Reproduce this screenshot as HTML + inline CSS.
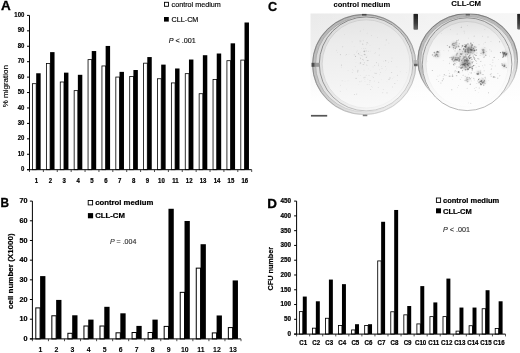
<!DOCTYPE html>
<html><head><meta charset="utf-8"><title>Figure</title>
<style>html,body{margin:0;padding:0;background:#fff}body{width:520px;height:353px;overflow:hidden}svg{display:block}</style>
</head><body>
<svg width="520" height="353" viewBox="0 0 520 353" font-family="Liberation Sans, Arial, sans-serif">
<defs>
<filter id="bl" x="-5%" y="-5%" width="110%" height="110%"><feGaussianBlur stdDeviation="0.45"/></filter>
<filter id="bl3" x="-20%" y="-20%" width="140%" height="140%"><feGaussianBlur stdDeviation="1.1"/></filter>
<filter id="bl2" x="-5%" y="-5%" width="110%" height="110%"><feGaussianBlur stdDeviation="0.3"/></filter>
<linearGradient id="bg" gradientUnits="userSpaceOnUse" x1="0" y1="14" x2="0" y2="118"><stop offset="0" stop-color="#eaeaea"/><stop offset="0.3" stop-color="#efefef"/><stop offset="0.6" stop-color="#f8f8f8"/><stop offset="0.85" stop-color="#ffffff"/></linearGradient>
<linearGradient id="bgh" gradientUnits="userSpaceOnUse" x1="311" y1="0" x2="520" y2="0"><stop offset="0" stop-color="#fff" stop-opacity="0"/><stop offset="0.4" stop-color="#fff" stop-opacity="0.3"/><stop offset="1" stop-color="#fff" stop-opacity="0.6"/></linearGradient>
<linearGradient id="fade" gradientUnits="userSpaceOnUse" x1="360" y1="35" x2="372" y2="118"><stop offset="0" stop-color="#fff" stop-opacity="0"/><stop offset="0.4" stop-color="#fff" stop-opacity="0.15"/><stop offset="0.75" stop-color="#fff" stop-opacity="0.45"/><stop offset="1" stop-color="#fff" stop-opacity="0.7"/></linearGradient>
<linearGradient id="dish2" x1="0" y1="0" x2="0" y2="1"><stop offset="0" stop-color="#e2e2e2"/><stop offset="0.3" stop-color="#f4f4f4"/><stop offset="0.6" stop-color="#fbfbfb"/><stop offset="1" stop-color="#fdfdfd"/></linearGradient>
<linearGradient id="db" x1="0" y1="0" x2="0" y2="1"><stop offset="0" stop-color="#1e1e1e"/><stop offset="0.6" stop-color="#3c3c3c"/><stop offset="1" stop-color="#6a6a6a"/></linearGradient>
<radialGradient id="dish" cx="0.5" cy="0.5" r="0.5"><stop offset="0" stop-color="#f4f4f4"/><stop offset="0.9" stop-color="#f1f1f1"/><stop offset="1" stop-color="#e6e6e6"/></radialGradient>
<clipPath id="pc"><rect x="310.5" y="13.5" width="209.5" height="106"/></clipPath>
</defs>
<rect width="520" height="353" fill="#fff"/>
<g id="panelA">
<rect x="32.50" y="83.69" width="3.70" height="86.01" fill="#fff" stroke="#000" stroke-width="0.8"/>
<rect x="36.20" y="73.26" width="4.45" height="96.44" fill="#000"/>
<rect x="46.39" y="63.48" width="3.70" height="106.22" fill="#fff" stroke="#000" stroke-width="0.8"/>
<rect x="50.09" y="52.12" width="4.45" height="117.58" fill="#000"/>
<rect x="60.27" y="81.99" width="3.70" height="87.71" fill="#fff" stroke="#000" stroke-width="0.8"/>
<rect x="63.98" y="72.65" width="4.45" height="97.05" fill="#000"/>
<rect x="74.16" y="90.64" width="3.70" height="79.06" fill="#fff" stroke="#000" stroke-width="0.8"/>
<rect x="77.86" y="74.81" width="4.45" height="94.89" fill="#000"/>
<rect x="88.05" y="59.62" width="3.70" height="110.08" fill="#fff" stroke="#000" stroke-width="0.8"/>
<rect x="91.75" y="51.04" width="4.45" height="118.66" fill="#000"/>
<rect x="101.94" y="65.95" width="3.70" height="103.75" fill="#fff" stroke="#000" stroke-width="0.8"/>
<rect x="105.64" y="45.95" width="4.45" height="123.75" fill="#000"/>
<rect x="115.82" y="77.06" width="3.70" height="92.64" fill="#fff" stroke="#000" stroke-width="0.8"/>
<rect x="119.52" y="71.87" width="4.45" height="97.83" fill="#000"/>
<rect x="129.71" y="76.59" width="3.70" height="93.11" fill="#fff" stroke="#000" stroke-width="0.8"/>
<rect x="133.41" y="70.02" width="4.45" height="99.68" fill="#000"/>
<rect x="143.60" y="63.17" width="3.70" height="106.53" fill="#fff" stroke="#000" stroke-width="0.8"/>
<rect x="147.30" y="57.06" width="4.45" height="112.64" fill="#000"/>
<rect x="157.49" y="78.75" width="3.70" height="90.95" fill="#fff" stroke="#000" stroke-width="0.8"/>
<rect x="161.19" y="64.62" width="4.45" height="105.08" fill="#000"/>
<rect x="171.38" y="82.92" width="3.70" height="86.78" fill="#fff" stroke="#000" stroke-width="0.8"/>
<rect x="175.07" y="68.48" width="4.45" height="101.22" fill="#000"/>
<rect x="185.26" y="73.66" width="3.70" height="96.04" fill="#fff" stroke="#000" stroke-width="0.8"/>
<rect x="188.96" y="59.53" width="4.45" height="110.17" fill="#000"/>
<rect x="199.15" y="93.72" width="3.70" height="75.98" fill="#fff" stroke="#000" stroke-width="0.8"/>
<rect x="202.85" y="55.21" width="4.45" height="114.49" fill="#000"/>
<rect x="213.04" y="79.53" width="3.70" height="90.17" fill="#fff" stroke="#000" stroke-width="0.8"/>
<rect x="216.74" y="53.51" width="4.45" height="116.19" fill="#000"/>
<rect x="226.92" y="60.70" width="3.70" height="109.00" fill="#fff" stroke="#000" stroke-width="0.8"/>
<rect x="230.62" y="43.33" width="4.45" height="126.37" fill="#000"/>
<rect x="240.81" y="60.08" width="3.70" height="109.62" fill="#fff" stroke="#000" stroke-width="0.8"/>
<rect x="244.51" y="22.50" width="4.45" height="147.20" fill="#000"/>
<line x1="29.5" y1="15.4" x2="29.5" y2="170.29999999999998" stroke="#000" stroke-width="1.0"/>
<line x1="27.0" y1="169.7" x2="251.7" y2="169.7" stroke="#000" stroke-width="1.0"/>
<line x1="27.0" y1="169.70" x2="29.5" y2="169.70" stroke="#000" stroke-width="1"/>
<text x="0" y="0" font-size="6.8" font-weight="bold" text-anchor="end" fill="#000" stroke="#000" stroke-width="0.22" transform="translate(24.3,171.30) scale(0.88,1)">0</text>
<line x1="27.0" y1="154.27" x2="29.5" y2="154.27" stroke="#000" stroke-width="1"/>
<text x="0" y="0" font-size="6.8" font-weight="bold" text-anchor="end" fill="#000" stroke="#000" stroke-width="0.22" transform="translate(24.3,155.87) scale(0.88,1)">10</text>
<line x1="27.0" y1="138.84" x2="29.5" y2="138.84" stroke="#000" stroke-width="1"/>
<text x="0" y="0" font-size="6.8" font-weight="bold" text-anchor="end" fill="#000" stroke="#000" stroke-width="0.22" transform="translate(24.3,140.44) scale(0.88,1)">20</text>
<line x1="27.0" y1="123.41" x2="29.5" y2="123.41" stroke="#000" stroke-width="1"/>
<text x="0" y="0" font-size="6.8" font-weight="bold" text-anchor="end" fill="#000" stroke="#000" stroke-width="0.22" transform="translate(24.3,125.01) scale(0.88,1)">30</text>
<line x1="27.0" y1="107.98" x2="29.5" y2="107.98" stroke="#000" stroke-width="1"/>
<text x="0" y="0" font-size="6.8" font-weight="bold" text-anchor="end" fill="#000" stroke="#000" stroke-width="0.22" transform="translate(24.3,109.58) scale(0.88,1)">40</text>
<line x1="27.0" y1="92.55" x2="29.5" y2="92.55" stroke="#000" stroke-width="1"/>
<text x="0" y="0" font-size="6.8" font-weight="bold" text-anchor="end" fill="#000" stroke="#000" stroke-width="0.22" transform="translate(24.3,94.15) scale(0.88,1)">50</text>
<line x1="27.0" y1="77.12" x2="29.5" y2="77.12" stroke="#000" stroke-width="1"/>
<text x="0" y="0" font-size="6.8" font-weight="bold" text-anchor="end" fill="#000" stroke="#000" stroke-width="0.22" transform="translate(24.3,78.72) scale(0.88,1)">60</text>
<line x1="27.0" y1="61.69" x2="29.5" y2="61.69" stroke="#000" stroke-width="1"/>
<text x="0" y="0" font-size="6.8" font-weight="bold" text-anchor="end" fill="#000" stroke="#000" stroke-width="0.22" transform="translate(24.3,63.29) scale(0.88,1)">70</text>
<line x1="27.0" y1="46.26" x2="29.5" y2="46.26" stroke="#000" stroke-width="1"/>
<text x="0" y="0" font-size="6.8" font-weight="bold" text-anchor="end" fill="#000" stroke="#000" stroke-width="0.22" transform="translate(24.3,47.86) scale(0.88,1)">80</text>
<line x1="27.0" y1="30.83" x2="29.5" y2="30.83" stroke="#000" stroke-width="1"/>
<text x="0" y="0" font-size="6.8" font-weight="bold" text-anchor="end" fill="#000" stroke="#000" stroke-width="0.22" transform="translate(24.3,32.43) scale(0.88,1)">90</text>
<line x1="27.0" y1="15.40" x2="29.5" y2="15.40" stroke="#000" stroke-width="1"/>
<text x="0" y="0" font-size="6.8" font-weight="bold" text-anchor="end" fill="#000" stroke="#000" stroke-width="0.22" transform="translate(24.3,17.00) scale(0.88,1)">100</text>
<line x1="29.50" y1="169.7" x2="29.50" y2="172.0" stroke="#222" stroke-width="0.8"/>
<line x1="43.39" y1="169.7" x2="43.39" y2="172.0" stroke="#222" stroke-width="0.8"/>
<line x1="57.27" y1="169.7" x2="57.27" y2="172.0" stroke="#222" stroke-width="0.8"/>
<line x1="71.16" y1="169.7" x2="71.16" y2="172.0" stroke="#222" stroke-width="0.8"/>
<line x1="85.05" y1="169.7" x2="85.05" y2="172.0" stroke="#222" stroke-width="0.8"/>
<line x1="98.94" y1="169.7" x2="98.94" y2="172.0" stroke="#222" stroke-width="0.8"/>
<line x1="112.82" y1="169.7" x2="112.82" y2="172.0" stroke="#222" stroke-width="0.8"/>
<line x1="126.71" y1="169.7" x2="126.71" y2="172.0" stroke="#222" stroke-width="0.8"/>
<line x1="140.60" y1="169.7" x2="140.60" y2="172.0" stroke="#222" stroke-width="0.8"/>
<line x1="154.49" y1="169.7" x2="154.49" y2="172.0" stroke="#222" stroke-width="0.8"/>
<line x1="168.38" y1="169.7" x2="168.38" y2="172.0" stroke="#222" stroke-width="0.8"/>
<line x1="182.26" y1="169.7" x2="182.26" y2="172.0" stroke="#222" stroke-width="0.8"/>
<line x1="196.15" y1="169.7" x2="196.15" y2="172.0" stroke="#222" stroke-width="0.8"/>
<line x1="210.04" y1="169.7" x2="210.04" y2="172.0" stroke="#222" stroke-width="0.8"/>
<line x1="223.92" y1="169.7" x2="223.92" y2="172.0" stroke="#222" stroke-width="0.8"/>
<line x1="237.81" y1="169.7" x2="237.81" y2="172.0" stroke="#222" stroke-width="0.8"/>
<line x1="251.70" y1="169.7" x2="251.70" y2="172.0" stroke="#222" stroke-width="0.8"/>
<text x="0" y="0" font-size="6.7" font-weight="bold" text-anchor="middle" fill="#000" stroke="#000" stroke-width="0.22" transform="translate(36.44,182.8) scale(0.9,1)">1</text>
<text x="0" y="0" font-size="6.7" font-weight="bold" text-anchor="middle" fill="#000" stroke="#000" stroke-width="0.22" transform="translate(50.33,182.8) scale(0.9,1)">2</text>
<text x="0" y="0" font-size="6.7" font-weight="bold" text-anchor="middle" fill="#000" stroke="#000" stroke-width="0.22" transform="translate(64.22,182.8) scale(0.9,1)">3</text>
<text x="0" y="0" font-size="6.7" font-weight="bold" text-anchor="middle" fill="#000" stroke="#000" stroke-width="0.22" transform="translate(78.11,182.8) scale(0.9,1)">4</text>
<text x="0" y="0" font-size="6.7" font-weight="bold" text-anchor="middle" fill="#000" stroke="#000" stroke-width="0.22" transform="translate(91.99,182.8) scale(0.9,1)">5</text>
<text x="0" y="0" font-size="6.7" font-weight="bold" text-anchor="middle" fill="#000" stroke="#000" stroke-width="0.22" transform="translate(105.88,182.8) scale(0.9,1)">6</text>
<text x="0" y="0" font-size="6.7" font-weight="bold" text-anchor="middle" fill="#000" stroke="#000" stroke-width="0.22" transform="translate(119.77,182.8) scale(0.9,1)">7</text>
<text x="0" y="0" font-size="6.7" font-weight="bold" text-anchor="middle" fill="#000" stroke="#000" stroke-width="0.22" transform="translate(133.66,182.8) scale(0.9,1)">8</text>
<text x="0" y="0" font-size="6.7" font-weight="bold" text-anchor="middle" fill="#000" stroke="#000" stroke-width="0.22" transform="translate(147.54,182.8) scale(0.9,1)">9</text>
<text x="0" y="0" font-size="6.7" font-weight="bold" text-anchor="middle" fill="#000" stroke="#000" stroke-width="0.22" transform="translate(161.43,182.8) scale(0.9,1)">10</text>
<text x="0" y="0" font-size="6.7" font-weight="bold" text-anchor="middle" fill="#000" stroke="#000" stroke-width="0.22" transform="translate(175.32,182.8) scale(0.9,1)">11</text>
<text x="0" y="0" font-size="6.7" font-weight="bold" text-anchor="middle" fill="#000" stroke="#000" stroke-width="0.22" transform="translate(189.21,182.8) scale(0.9,1)">12</text>
<text x="0" y="0" font-size="6.7" font-weight="bold" text-anchor="middle" fill="#000" stroke="#000" stroke-width="0.22" transform="translate(203.09,182.8) scale(0.9,1)">13</text>
<text x="0" y="0" font-size="6.7" font-weight="bold" text-anchor="middle" fill="#000" stroke="#000" stroke-width="0.22" transform="translate(216.98,182.8) scale(0.9,1)">14</text>
<text x="0" y="0" font-size="6.7" font-weight="bold" text-anchor="middle" fill="#000" stroke="#000" stroke-width="0.22" transform="translate(230.87,182.8) scale(0.9,1)">15</text>
<text x="0" y="0" font-size="6.7" font-weight="bold" text-anchor="middle" fill="#000" stroke="#000" stroke-width="0.22" transform="translate(244.76,182.8) scale(0.9,1)">16</text>
<text transform="translate(7.6,86.2) rotate(-90)" font-size="8.0" font-weight="normal" text-anchor="middle" stroke="#000" stroke-width="0.15">% migration</text>
<text x="0" y="0" font-size="12.5" font-weight="bold" text-anchor="start" fill="#000" stroke="#000" stroke-width="0.3" transform="translate(0.9,10.3) scale(1.08,1)">A</text>
<rect x="164.5" y="2.3" width="4" height="4" fill="#fff" stroke="#000" stroke-width="0.9"/>
<text x="171.6" y="7" font-size="7.2" font-weight="normal" text-anchor="start" fill="#000" stroke="#000" stroke-width="0.15" >control medium</text>
<rect x="164" y="17" width="4.8" height="4.6" fill="#000"/>
<text x="171.6" y="22" font-size="7.2" font-weight="normal" text-anchor="start" fill="#000" stroke="#000" stroke-width="0.15" >CLL-CM</text>
<text x="168.8" y="42.6" font-size="7.2" font-weight="normal" text-anchor="start" fill="#111" stroke="#111" stroke-width="0.15" ><tspan font-style="italic">P</tspan> &lt; .001</text>
</g>
<g id="panelB">
<rect x="35.80" y="307.90" width="4.30" height="31.00" fill="#fff" stroke="#000" stroke-width="1.0"/>
<rect x="40.10" y="276.10" width="5.30" height="62.80" fill="#000"/>
<rect x="51.85" y="315.78" width="4.30" height="23.12" fill="#fff" stroke="#000" stroke-width="1.0"/>
<rect x="56.15" y="299.92" width="5.30" height="38.98" fill="#000"/>
<rect x="67.89" y="333.30" width="4.30" height="5.60" fill="#fff" stroke="#000" stroke-width="1.0"/>
<rect x="72.19" y="315.28" width="5.30" height="23.62" fill="#000"/>
<rect x="83.94" y="326.01" width="4.30" height="12.89" fill="#fff" stroke="#000" stroke-width="1.0"/>
<rect x="88.24" y="319.61" width="5.30" height="19.29" fill="#000"/>
<rect x="99.98" y="326.01" width="4.30" height="12.89" fill="#fff" stroke="#000" stroke-width="1.0"/>
<rect x="104.28" y="306.81" width="5.30" height="32.09" fill="#000"/>
<rect x="116.03" y="332.81" width="4.30" height="6.09" fill="#fff" stroke="#000" stroke-width="1.0"/>
<rect x="120.33" y="313.31" width="5.30" height="25.59" fill="#000"/>
<rect x="132.08" y="332.51" width="4.30" height="6.39" fill="#fff" stroke="#000" stroke-width="1.0"/>
<rect x="136.38" y="325.91" width="5.30" height="12.99" fill="#000"/>
<rect x="148.12" y="332.51" width="4.30" height="6.39" fill="#fff" stroke="#000" stroke-width="1.0"/>
<rect x="152.42" y="319.61" width="5.30" height="19.29" fill="#000"/>
<rect x="164.17" y="326.41" width="4.30" height="12.49" fill="#fff" stroke="#000" stroke-width="1.0"/>
<rect x="168.47" y="208.78" width="5.30" height="130.12" fill="#000"/>
<rect x="180.22" y="292.35" width="4.30" height="46.55" fill="#fff" stroke="#000" stroke-width="1.0"/>
<rect x="184.52" y="220.98" width="5.30" height="117.92" fill="#000"/>
<rect x="196.26" y="268.14" width="4.30" height="70.76" fill="#fff" stroke="#000" stroke-width="1.0"/>
<rect x="200.56" y="244.21" width="5.30" height="94.69" fill="#000"/>
<rect x="212.31" y="332.90" width="4.30" height="6.00" fill="#fff" stroke="#000" stroke-width="1.0"/>
<rect x="216.61" y="315.47" width="5.30" height="23.43" fill="#000"/>
<rect x="228.35" y="327.59" width="4.30" height="11.31" fill="#fff" stroke="#000" stroke-width="1.0"/>
<rect x="232.65" y="280.43" width="5.30" height="58.47" fill="#000"/>
<line x1="32.4" y1="201.1" x2="32.4" y2="339.5" stroke="#000" stroke-width="1.0"/>
<line x1="29.9" y1="338.9" x2="241" y2="338.9" stroke="#000" stroke-width="1.0"/>
<line x1="29.9" y1="338.90" x2="32.4" y2="338.90" stroke="#000" stroke-width="1"/>
<text x="0" y="0" font-size="7.2" font-weight="bold" text-anchor="end" fill="#000" stroke="#000" stroke-width="0.22" transform="translate(27.5,341.04) scale(1.0,1)">0</text>
<line x1="29.9" y1="319.21" x2="32.4" y2="319.21" stroke="#000" stroke-width="1"/>
<text x="0" y="0" font-size="7.2" font-weight="bold" text-anchor="end" fill="#000" stroke="#000" stroke-width="0.22" transform="translate(27.5,321.36) scale(1.0,1)">10</text>
<line x1="29.9" y1="299.53" x2="32.4" y2="299.53" stroke="#000" stroke-width="1"/>
<text x="0" y="0" font-size="7.2" font-weight="bold" text-anchor="end" fill="#000" stroke="#000" stroke-width="0.22" transform="translate(27.5,301.67) scale(1.0,1)">20</text>
<line x1="29.9" y1="279.84" x2="32.4" y2="279.84" stroke="#000" stroke-width="1"/>
<text x="0" y="0" font-size="7.2" font-weight="bold" text-anchor="end" fill="#000" stroke="#000" stroke-width="0.22" transform="translate(27.5,281.98) scale(1.0,1)">30</text>
<line x1="29.9" y1="260.16" x2="32.4" y2="260.16" stroke="#000" stroke-width="1"/>
<text x="0" y="0" font-size="7.2" font-weight="bold" text-anchor="end" fill="#000" stroke="#000" stroke-width="0.22" transform="translate(27.5,262.30) scale(1.0,1)">40</text>
<line x1="29.9" y1="240.47" x2="32.4" y2="240.47" stroke="#000" stroke-width="1"/>
<text x="0" y="0" font-size="7.2" font-weight="bold" text-anchor="end" fill="#000" stroke="#000" stroke-width="0.22" transform="translate(27.5,242.61) scale(1.0,1)">50</text>
<line x1="29.9" y1="220.79" x2="32.4" y2="220.79" stroke="#000" stroke-width="1"/>
<text x="0" y="0" font-size="7.2" font-weight="bold" text-anchor="end" fill="#000" stroke="#000" stroke-width="0.22" transform="translate(27.5,222.93) scale(1.0,1)">60</text>
<line x1="29.9" y1="201.10" x2="32.4" y2="201.10" stroke="#000" stroke-width="1"/>
<text x="0" y="0" font-size="7.2" font-weight="bold" text-anchor="end" fill="#000" stroke="#000" stroke-width="0.22" transform="translate(27.5,203.24) scale(1.0,1)">70</text>
<line x1="32.40" y1="338.9" x2="32.40" y2="341.2" stroke="#222" stroke-width="0.8"/>
<line x1="48.45" y1="338.9" x2="48.45" y2="341.2" stroke="#222" stroke-width="0.8"/>
<line x1="64.49" y1="338.9" x2="64.49" y2="341.2" stroke="#222" stroke-width="0.8"/>
<line x1="80.54" y1="338.9" x2="80.54" y2="341.2" stroke="#222" stroke-width="0.8"/>
<line x1="96.58" y1="338.9" x2="96.58" y2="341.2" stroke="#222" stroke-width="0.8"/>
<line x1="112.63" y1="338.9" x2="112.63" y2="341.2" stroke="#222" stroke-width="0.8"/>
<line x1="128.68" y1="338.9" x2="128.68" y2="341.2" stroke="#222" stroke-width="0.8"/>
<line x1="144.72" y1="338.9" x2="144.72" y2="341.2" stroke="#222" stroke-width="0.8"/>
<line x1="160.77" y1="338.9" x2="160.77" y2="341.2" stroke="#222" stroke-width="0.8"/>
<line x1="176.82" y1="338.9" x2="176.82" y2="341.2" stroke="#222" stroke-width="0.8"/>
<line x1="192.86" y1="338.9" x2="192.86" y2="341.2" stroke="#222" stroke-width="0.8"/>
<line x1="208.91" y1="338.9" x2="208.91" y2="341.2" stroke="#222" stroke-width="0.8"/>
<line x1="224.95" y1="338.9" x2="224.95" y2="341.2" stroke="#222" stroke-width="0.8"/>
<line x1="241.00" y1="338.9" x2="241.00" y2="341.2" stroke="#222" stroke-width="0.8"/>
<text x="0" y="0" font-size="6.9" font-weight="bold" text-anchor="middle" fill="#000" stroke="#000" stroke-width="0.08" transform="translate(40.42,351.6) scale(1.0,1)">1</text>
<text x="0" y="0" font-size="6.9" font-weight="bold" text-anchor="middle" fill="#000" stroke="#000" stroke-width="0.08" transform="translate(56.47,351.6) scale(1.0,1)">2</text>
<text x="0" y="0" font-size="6.9" font-weight="bold" text-anchor="middle" fill="#000" stroke="#000" stroke-width="0.08" transform="translate(72.52,351.6) scale(1.0,1)">3</text>
<text x="0" y="0" font-size="6.9" font-weight="bold" text-anchor="middle" fill="#000" stroke="#000" stroke-width="0.08" transform="translate(88.56,351.6) scale(1.0,1)">4</text>
<text x="0" y="0" font-size="6.9" font-weight="bold" text-anchor="middle" fill="#000" stroke="#000" stroke-width="0.08" transform="translate(104.61,351.6) scale(1.0,1)">5</text>
<text x="0" y="0" font-size="6.9" font-weight="bold" text-anchor="middle" fill="#000" stroke="#000" stroke-width="0.08" transform="translate(120.65,351.6) scale(1.0,1)">6</text>
<text x="0" y="0" font-size="6.9" font-weight="bold" text-anchor="middle" fill="#000" stroke="#000" stroke-width="0.08" transform="translate(136.70,351.6) scale(1.0,1)">7</text>
<text x="0" y="0" font-size="6.9" font-weight="bold" text-anchor="middle" fill="#000" stroke="#000" stroke-width="0.08" transform="translate(152.75,351.6) scale(1.0,1)">8</text>
<text x="0" y="0" font-size="6.9" font-weight="bold" text-anchor="middle" fill="#000" stroke="#000" stroke-width="0.08" transform="translate(168.79,351.6) scale(1.0,1)">9</text>
<text x="0" y="0" font-size="6.9" font-weight="bold" text-anchor="middle" fill="#000" stroke="#000" stroke-width="0.08" transform="translate(184.84,351.6) scale(1.0,1)">10</text>
<text x="0" y="0" font-size="6.9" font-weight="bold" text-anchor="middle" fill="#000" stroke="#000" stroke-width="0.08" transform="translate(200.88,351.6) scale(1.0,1)">11</text>
<text x="0" y="0" font-size="6.9" font-weight="bold" text-anchor="middle" fill="#000" stroke="#000" stroke-width="0.08" transform="translate(216.93,351.6) scale(1.0,1)">12</text>
<text x="0" y="0" font-size="6.9" font-weight="bold" text-anchor="middle" fill="#000" stroke="#000" stroke-width="0.08" transform="translate(232.98,351.6) scale(1.0,1)">13</text>
<text transform="translate(12.5,271.2) rotate(-90)" font-size="8.0" font-weight="bold" text-anchor="middle" stroke="#000" stroke-width="0.2">cell number (X1000)</text>
<text x="0" y="0" font-size="12.2" font-weight="bold" text-anchor="start" fill="#000" stroke="#000" stroke-width="0.3" transform="translate(0.4,207.2) scale(0.97,1)">B</text>
<rect x="88.2" y="200.5" width="4.4" height="4.4" fill="#fff" stroke="#000" stroke-width="0.9"/>
<text x="95.2" y="205.3" font-size="7.75" font-weight="bold" text-anchor="start" fill="#000" stroke="#000" stroke-width="0.22" >control medium</text>
<rect x="87.9" y="213.1" width="5.2" height="5.2" fill="#000"/>
<text x="95.2" y="218.1" font-size="7.75" font-weight="bold" text-anchor="start" fill="#000" stroke="#000" stroke-width="0.22" >CLL-CM</text>
<text x="110" y="244.3" font-size="7.0" font-weight="normal" text-anchor="start" fill="#333" stroke="#333" stroke-width="0.15" ><tspan font-style="italic">P</tspan> = .004</text>
</g>
<g id="panelD">
<rect x="299.38" y="311.62" width="3.43" height="22.48" fill="#fff" stroke="#000" stroke-width="0.85"/>
<rect x="302.80" y="296.56" width="3.95" height="37.54" fill="#000"/>
<rect x="312.43" y="328.17" width="3.43" height="5.93" fill="#fff" stroke="#000" stroke-width="0.85"/>
<rect x="315.86" y="301.29" width="3.95" height="32.81" fill="#000"/>
<rect x="325.49" y="318.27" width="3.43" height="15.83" fill="#fff" stroke="#000" stroke-width="0.85"/>
<rect x="328.91" y="279.57" width="3.95" height="54.53" fill="#000"/>
<rect x="338.54" y="325.51" width="3.43" height="8.59" fill="#fff" stroke="#000" stroke-width="0.85"/>
<rect x="341.97" y="284.15" width="3.95" height="49.95" fill="#000"/>
<rect x="351.60" y="329.94" width="3.43" height="4.16" fill="#fff" stroke="#000" stroke-width="0.85"/>
<rect x="355.03" y="324.20" width="3.95" height="9.90" fill="#000"/>
<rect x="364.66" y="325.51" width="3.43" height="8.59" fill="#fff" stroke="#000" stroke-width="0.85"/>
<rect x="368.08" y="324.20" width="3.95" height="9.90" fill="#000"/>
<rect x="377.71" y="260.93" width="3.43" height="73.17" fill="#fff" stroke="#000" stroke-width="0.85"/>
<rect x="381.14" y="221.79" width="3.95" height="112.31" fill="#000"/>
<rect x="390.77" y="311.77" width="3.43" height="22.33" fill="#fff" stroke="#000" stroke-width="0.85"/>
<rect x="394.19" y="209.97" width="3.95" height="124.13" fill="#000"/>
<rect x="403.83" y="314.84" width="3.43" height="19.26" fill="#fff" stroke="#000" stroke-width="0.85"/>
<rect x="407.25" y="306.02" width="3.95" height="28.08" fill="#000"/>
<rect x="416.88" y="323.91" width="3.43" height="10.19" fill="#fff" stroke="#000" stroke-width="0.85"/>
<rect x="420.31" y="286.10" width="3.95" height="48.00" fill="#000"/>
<rect x="429.94" y="316.61" width="3.43" height="17.49" fill="#fff" stroke="#000" stroke-width="0.85"/>
<rect x="433.36" y="302.42" width="3.95" height="31.68" fill="#000"/>
<rect x="442.99" y="316.61" width="3.43" height="17.49" fill="#fff" stroke="#000" stroke-width="0.85"/>
<rect x="446.42" y="278.59" width="3.95" height="55.51" fill="#000"/>
<rect x="456.05" y="331.13" width="3.43" height="2.97" fill="#fff" stroke="#000" stroke-width="0.85"/>
<rect x="459.48" y="307.56" width="3.95" height="26.54" fill="#000"/>
<rect x="469.11" y="325.72" width="3.43" height="8.38" fill="#fff" stroke="#000" stroke-width="0.85"/>
<rect x="472.53" y="307.56" width="3.95" height="26.54" fill="#000"/>
<rect x="482.16" y="308.72" width="3.43" height="25.38" fill="#fff" stroke="#000" stroke-width="0.85"/>
<rect x="485.59" y="290.21" width="3.95" height="43.89" fill="#000"/>
<rect x="495.22" y="328.44" width="3.43" height="5.66" fill="#fff" stroke="#000" stroke-width="0.85"/>
<rect x="498.64" y="301.29" width="3.95" height="32.81" fill="#000"/>
<line x1="296.6" y1="201.1" x2="296.6" y2="334.70000000000005" stroke="#000" stroke-width="1.0"/>
<line x1="294.1" y1="334.1" x2="505.5" y2="334.1" stroke="#000" stroke-width="1.0"/>
<line x1="294.1" y1="334.10" x2="296.6" y2="334.10" stroke="#000" stroke-width="1"/>
<text x="0" y="0" font-size="6.3" font-weight="bold" text-anchor="end" fill="#000" stroke="#000" stroke-width="0.22" transform="translate(291,336.02) scale(1.0,1)">0</text>
<line x1="294.1" y1="319.32" x2="296.6" y2="319.32" stroke="#000" stroke-width="1"/>
<text x="0" y="0" font-size="6.3" font-weight="bold" text-anchor="end" fill="#000" stroke="#000" stroke-width="0.22" transform="translate(291,321.24) scale(1.0,1)">50</text>
<line x1="294.1" y1="304.54" x2="296.6" y2="304.54" stroke="#000" stroke-width="1"/>
<text x="0" y="0" font-size="6.3" font-weight="bold" text-anchor="end" fill="#000" stroke="#000" stroke-width="0.22" transform="translate(291,306.46) scale(1.0,1)">100</text>
<line x1="294.1" y1="289.77" x2="296.6" y2="289.77" stroke="#000" stroke-width="1"/>
<text x="0" y="0" font-size="6.3" font-weight="bold" text-anchor="end" fill="#000" stroke="#000" stroke-width="0.22" transform="translate(291,291.68) scale(1.0,1)">150</text>
<line x1="294.1" y1="274.99" x2="296.6" y2="274.99" stroke="#000" stroke-width="1"/>
<text x="0" y="0" font-size="6.3" font-weight="bold" text-anchor="end" fill="#000" stroke="#000" stroke-width="0.22" transform="translate(291,276.91) scale(1.0,1)">200</text>
<line x1="294.1" y1="260.21" x2="296.6" y2="260.21" stroke="#000" stroke-width="1"/>
<text x="0" y="0" font-size="6.3" font-weight="bold" text-anchor="end" fill="#000" stroke="#000" stroke-width="0.22" transform="translate(291,262.13) scale(1.0,1)">250</text>
<line x1="294.1" y1="245.43" x2="296.6" y2="245.43" stroke="#000" stroke-width="1"/>
<text x="0" y="0" font-size="6.3" font-weight="bold" text-anchor="end" fill="#000" stroke="#000" stroke-width="0.22" transform="translate(291,247.35) scale(1.0,1)">300</text>
<line x1="294.1" y1="230.66" x2="296.6" y2="230.66" stroke="#000" stroke-width="1"/>
<text x="0" y="0" font-size="6.3" font-weight="bold" text-anchor="end" fill="#000" stroke="#000" stroke-width="0.22" transform="translate(291,232.57) scale(1.0,1)">350</text>
<line x1="294.1" y1="215.88" x2="296.6" y2="215.88" stroke="#000" stroke-width="1"/>
<text x="0" y="0" font-size="6.3" font-weight="bold" text-anchor="end" fill="#000" stroke="#000" stroke-width="0.22" transform="translate(291,217.80) scale(1.0,1)">400</text>
<line x1="294.1" y1="201.10" x2="296.6" y2="201.10" stroke="#000" stroke-width="1"/>
<text x="0" y="0" font-size="6.3" font-weight="bold" text-anchor="end" fill="#000" stroke="#000" stroke-width="0.22" transform="translate(291,203.02) scale(1.0,1)">450</text>
<line x1="296.60" y1="334.1" x2="296.60" y2="336.40000000000003" stroke="#222" stroke-width="0.8"/>
<line x1="309.66" y1="334.1" x2="309.66" y2="336.40000000000003" stroke="#222" stroke-width="0.8"/>
<line x1="322.71" y1="334.1" x2="322.71" y2="336.40000000000003" stroke="#222" stroke-width="0.8"/>
<line x1="335.77" y1="334.1" x2="335.77" y2="336.40000000000003" stroke="#222" stroke-width="0.8"/>
<line x1="348.83" y1="334.1" x2="348.83" y2="336.40000000000003" stroke="#222" stroke-width="0.8"/>
<line x1="361.88" y1="334.1" x2="361.88" y2="336.40000000000003" stroke="#222" stroke-width="0.8"/>
<line x1="374.94" y1="334.1" x2="374.94" y2="336.40000000000003" stroke="#222" stroke-width="0.8"/>
<line x1="387.99" y1="334.1" x2="387.99" y2="336.40000000000003" stroke="#222" stroke-width="0.8"/>
<line x1="401.05" y1="334.1" x2="401.05" y2="336.40000000000003" stroke="#222" stroke-width="0.8"/>
<line x1="414.11" y1="334.1" x2="414.11" y2="336.40000000000003" stroke="#222" stroke-width="0.8"/>
<line x1="427.16" y1="334.1" x2="427.16" y2="336.40000000000003" stroke="#222" stroke-width="0.8"/>
<line x1="440.22" y1="334.1" x2="440.22" y2="336.40000000000003" stroke="#222" stroke-width="0.8"/>
<line x1="453.27" y1="334.1" x2="453.27" y2="336.40000000000003" stroke="#222" stroke-width="0.8"/>
<line x1="466.33" y1="334.1" x2="466.33" y2="336.40000000000003" stroke="#222" stroke-width="0.8"/>
<line x1="479.39" y1="334.1" x2="479.39" y2="336.40000000000003" stroke="#222" stroke-width="0.8"/>
<line x1="492.44" y1="334.1" x2="492.44" y2="336.40000000000003" stroke="#222" stroke-width="0.8"/>
<line x1="505.50" y1="334.1" x2="505.50" y2="336.40000000000003" stroke="#222" stroke-width="0.8"/>
<text x="0" y="0" font-size="6.7" font-weight="bold" text-anchor="middle" fill="#000" stroke="#000" stroke-width="0.22" transform="translate(303.13,345.2) scale(0.92,1)">C1</text>
<text x="0" y="0" font-size="6.7" font-weight="bold" text-anchor="middle" fill="#000" stroke="#000" stroke-width="0.22" transform="translate(316.18,345.2) scale(0.92,1)">C2</text>
<text x="0" y="0" font-size="6.7" font-weight="bold" text-anchor="middle" fill="#000" stroke="#000" stroke-width="0.22" transform="translate(329.24,345.2) scale(0.92,1)">C3</text>
<text x="0" y="0" font-size="6.7" font-weight="bold" text-anchor="middle" fill="#000" stroke="#000" stroke-width="0.22" transform="translate(342.30,345.2) scale(0.92,1)">C4</text>
<text x="0" y="0" font-size="6.7" font-weight="bold" text-anchor="middle" fill="#000" stroke="#000" stroke-width="0.22" transform="translate(355.35,345.2) scale(0.92,1)">C5</text>
<text x="0" y="0" font-size="6.7" font-weight="bold" text-anchor="middle" fill="#000" stroke="#000" stroke-width="0.22" transform="translate(368.41,345.2) scale(0.92,1)">C6</text>
<text x="0" y="0" font-size="6.7" font-weight="bold" text-anchor="middle" fill="#000" stroke="#000" stroke-width="0.22" transform="translate(381.47,345.2) scale(0.92,1)">C7</text>
<text x="0" y="0" font-size="6.7" font-weight="bold" text-anchor="middle" fill="#000" stroke="#000" stroke-width="0.22" transform="translate(394.52,345.2) scale(0.92,1)">C8</text>
<text x="0" y="0" font-size="6.7" font-weight="bold" text-anchor="middle" fill="#000" stroke="#000" stroke-width="0.22" transform="translate(407.58,345.2) scale(0.92,1)">C9</text>
<text x="0" y="0" font-size="6.7" font-weight="bold" text-anchor="middle" fill="#000" stroke="#000" stroke-width="0.22" transform="translate(420.63,345.2) scale(0.92,1)">C10</text>
<text x="0" y="0" font-size="6.7" font-weight="bold" text-anchor="middle" fill="#000" stroke="#000" stroke-width="0.22" transform="translate(433.69,345.2) scale(0.92,1)">C11</text>
<text x="0" y="0" font-size="6.7" font-weight="bold" text-anchor="middle" fill="#000" stroke="#000" stroke-width="0.22" transform="translate(446.75,345.2) scale(0.92,1)">C12</text>
<text x="0" y="0" font-size="6.7" font-weight="bold" text-anchor="middle" fill="#000" stroke="#000" stroke-width="0.22" transform="translate(459.80,345.2) scale(0.92,1)">C13</text>
<text x="0" y="0" font-size="6.7" font-weight="bold" text-anchor="middle" fill="#000" stroke="#000" stroke-width="0.22" transform="translate(472.86,345.2) scale(0.92,1)">C14</text>
<text x="0" y="0" font-size="6.7" font-weight="bold" text-anchor="middle" fill="#000" stroke="#000" stroke-width="0.22" transform="translate(485.92,345.2) scale(0.92,1)">C15</text>
<text x="0" y="0" font-size="6.7" font-weight="bold" text-anchor="middle" fill="#000" stroke="#000" stroke-width="0.22" transform="translate(498.97,345.2) scale(0.92,1)">C16</text>
<text transform="translate(273,268.7) rotate(-90)" font-size="7.3" font-weight="bold" text-anchor="middle" stroke="#000" stroke-width="0.2">CFU number</text>
<text x="0" y="0" font-size="12.8" font-weight="bold" text-anchor="start" fill="#000" stroke="#000" stroke-width="0.3" transform="translate(267.3,207.6) scale(1.05,1)">D</text>
<rect x="436.4" y="198" width="4.2" height="4.4" fill="#fff" stroke="#000" stroke-width="0.9"/>
<text x="443" y="202.8" font-size="7.5" font-weight="bold" text-anchor="start" fill="#000" stroke="#000" stroke-width="0.22" >control medium</text>
<rect x="436" y="208.3" width="5" height="5" fill="#000"/>
<text x="443" y="213.5" font-size="7.5" font-weight="bold" text-anchor="start" fill="#000" stroke="#000" stroke-width="0.22" >CLL-CM</text>
<text x="443" y="231.5" font-size="7.2" font-weight="normal" text-anchor="start" fill="#333" stroke="#333" stroke-width="0.15" ><tspan font-style="italic">P</tspan> &lt; .001</text>
</g>
<g id="panelC">
<text x="0" y="0" font-size="12.9" font-weight="bold" text-anchor="start" fill="#000" stroke="#000" stroke-width="0.3" transform="translate(267.9,10.5) scale(0.98,1)">C</text>
<text x="361.8" y="6.5" font-size="7.55" font-weight="bold" text-anchor="middle" fill="#000" stroke="#000" stroke-width="0.1" >control medium</text>
<text x="466.2" y="6.4" font-size="7.75" font-weight="bold" text-anchor="middle" fill="#000" stroke="#000" stroke-width="0.1" >CLL-CM</text>
<g clip-path="url(#pc)">
<rect x="310" y="13" width="211" height="107" fill="url(#bg)"/>
<rect x="310" y="13" width="211" height="107" fill="url(#bgh)"/>
<g filter="url(#bl)">
<linearGradient id="o1" gradientUnits="userSpaceOnUse" x1="335" y1="18" x2="392" y2="116"><stop offset="0" stop-color="#7a7a7a"/><stop offset="0.45" stop-color="#8c8c8c"/><stop offset="0.75" stop-color="#b4b4b4"/><stop offset="1" stop-color="#d6d6d6"/></linearGradient>
<linearGradient id="b1" gradientUnits="userSpaceOnUse" x1="335" y1="18" x2="392" y2="116"><stop offset="0" stop-color="#b6b6b6"/><stop offset="0.45" stop-color="#c6c6c6"/><stop offset="0.75" stop-color="#dedede"/><stop offset="1" stop-color="#f2f2f2"/></linearGradient>
<linearGradient id="i1" gradientUnits="userSpaceOnUse" x1="335" y1="18" x2="392" y2="116"><stop offset="0" stop-color="#989898"/><stop offset="0.45" stop-color="#a0a0a0"/><stop offset="0.75" stop-color="#c8c8c8"/><stop offset="1" stop-color="#e6e6e6"/></linearGradient>
<linearGradient id="c1" gradientUnits="userSpaceOnUse" x1="335" y1="18" x2="392" y2="116"><stop offset="0" stop-color="#d8d8d8"/><stop offset="0.5" stop-color="#e2e2e2"/><stop offset="0.8" stop-color="#f0f0f0"/><stop offset="1" stop-color="#fafafa"/></linearGradient>
<linearGradient id="f1" gradientUnits="userSpaceOnUse" x1="364" y1="17" x2="372" y2="113"><stop offset="0" stop-color="#e4e4e4"/><stop offset="0.25" stop-color="#ececec"/><stop offset="0.6" stop-color="#f2f2f2"/><stop offset="1" stop-color="#fafafa"/></linearGradient>
<linearGradient id="e1" gradientUnits="userSpaceOnUse" x1="335" y1="18" x2="392" y2="116"><stop offset="0" stop-color="#dadada"/><stop offset="0.5" stop-color="#e4e4e4"/><stop offset="0.8" stop-color="#f2f2f2"/><stop offset="1" stop-color="#fbfbfb"/></linearGradient>
<linearGradient id="k1" gradientUnits="userSpaceOnUse" x1="335" y1="18" x2="392" y2="116"><stop offset="0" stop-color="#bcbcbc"/><stop offset="0.5" stop-color="#cccccc"/><stop offset="0.8" stop-color="#e6e6e6"/><stop offset="1" stop-color="#f6f6f6"/></linearGradient>
<ellipse cx="364.20" cy="64.50" rx="52.00" ry="50.40" fill="url(#c1)" stroke="none" stroke-width="1" opacity="1"/>
<ellipse cx="364.20" cy="64.50" rx="50.40" ry="48.80" fill="none" stroke="url(#b1)" stroke-width="3.2" opacity="1"/>
<ellipse cx="364.20" cy="64.50" rx="51.60" ry="50.00" fill="none" stroke="url(#o1)" stroke-width="0.9" opacity="1"/>
<ellipse cx="364.20" cy="64.50" rx="48.70" ry="47.40" fill="none" stroke="url(#i1)" stroke-width="0.7" opacity="1"/>
<ellipse cx="366.10" cy="63.90" rx="47.10" ry="47.30" fill="url(#f1)" stroke="none" stroke-width="1" opacity="1"/>
<ellipse cx="366.10" cy="63.90" rx="45.60" ry="45.80" fill="none" stroke="url(#e1)" stroke-width="3" opacity="1"/>
<ellipse cx="366.10" cy="63.90" rx="46.80" ry="47.00" fill="none" stroke="url(#o1)" stroke-width="0.9" opacity="1"/>
<ellipse cx="366.10" cy="63.90" rx="43.90" ry="44.10" fill="none" stroke="url(#k1)" stroke-width="0.6" opacity="1"/>
<linearGradient id="o2" gradientUnits="userSpaceOnUse" x1="458" y1="13" x2="476" y2="110"><stop offset="0" stop-color="#7a7a7a"/><stop offset="0.5" stop-color="#868686"/><stop offset="0.72" stop-color="#b8b8b8"/><stop offset="0.9" stop-color="#eaeaea"/><stop offset="1" stop-color="#f8f8f8"/></linearGradient>
<linearGradient id="b2" gradientUnits="userSpaceOnUse" x1="458" y1="13" x2="476" y2="110"><stop offset="0" stop-color="#b4b4b4"/><stop offset="0.5" stop-color="#c2c2c2"/><stop offset="0.72" stop-color="#e2e2e2"/><stop offset="0.9" stop-color="#f8f8f8"/><stop offset="1" stop-color="#fdfdfd"/></linearGradient>
<linearGradient id="i2" gradientUnits="userSpaceOnUse" x1="458" y1="13" x2="476" y2="110"><stop offset="0" stop-color="#959595"/><stop offset="0.5" stop-color="#a6a6a6"/><stop offset="0.72" stop-color="#d6d6d6"/><stop offset="0.9" stop-color="#f6f6f6"/><stop offset="1" stop-color="#fdfdfd"/></linearGradient>
<linearGradient id="c2" gradientUnits="userSpaceOnUse" x1="458" y1="13" x2="476" y2="110"><stop offset="0" stop-color="#d8d8d8"/><stop offset="0.4" stop-color="#e6e6e6"/><stop offset="0.7" stop-color="#f8f8f8"/><stop offset="1" stop-color="#ffffff"/></linearGradient>
<linearGradient id="ob2" gradientUnits="userSpaceOnUse" x1="458" y1="13" x2="476" y2="110"><stop offset="0" stop-color="#8e8e8e"/><stop offset="0.5" stop-color="#9a9a9a"/><stop offset="0.8" stop-color="#b0b0b0"/><stop offset="1" stop-color="#b8b8b8"/></linearGradient>
<linearGradient id="f2" gradientUnits="userSpaceOnUse" x1="466" y1="17" x2="468" y2="110"><stop offset="0" stop-color="#dedede"/><stop offset="0.2" stop-color="#efefef"/><stop offset="0.45" stop-color="#f9f9f9"/><stop offset="1" stop-color="#fefefe"/></linearGradient>
<linearGradient id="e2" gradientUnits="userSpaceOnUse" x1="458" y1="13" x2="476" y2="110"><stop offset="0" stop-color="#d6d6d6"/><stop offset="0.4" stop-color="#e8e8e8"/><stop offset="0.7" stop-color="#f8f8f8"/><stop offset="1" stop-color="#fefefe"/></linearGradient>
<linearGradient id="k2" gradientUnits="userSpaceOnUse" x1="458" y1="13" x2="476" y2="110"><stop offset="0" stop-color="#bababa"/><stop offset="0.4" stop-color="#d0d0d0"/><stop offset="0.7" stop-color="#f0f0f0"/><stop offset="1" stop-color="#fdfdfd"/></linearGradient>
<ellipse cx="467.70" cy="60.35" rx="50.30" ry="47.20" fill="url(#c2)" stroke="none" stroke-width="1" opacity="1"/>
<ellipse cx="467.70" cy="60.35" rx="48.70" ry="45.60" fill="none" stroke="url(#b2)" stroke-width="3.2" opacity="1"/>
<ellipse cx="467.70" cy="60.35" rx="49.80" ry="46.70" fill="none" stroke="url(#o2)" stroke-width="1.0" opacity="1"/>
<ellipse cx="467.70" cy="60.35" rx="47.00" ry="43.90" fill="none" stroke="url(#i2)" stroke-width="0.7" opacity="1"/>
<ellipse cx="467.10" cy="64.20" rx="45.00" ry="46.60" fill="url(#f2)" stroke="none" stroke-width="1" opacity="1"/>
<ellipse cx="467.10" cy="64.20" rx="43.00" ry="44.60" fill="none" stroke="url(#e2)" stroke-width="3.4" opacity="1"/>
<ellipse cx="467.10" cy="64.20" rx="44.80" ry="46.40" fill="none" stroke="url(#ob2)" stroke-width="1.0" opacity="1"/>
<ellipse cx="467.10" cy="64.20" rx="41.10" ry="42.70" fill="none" stroke="url(#k2)" stroke-width="0.6" opacity="1"/>
<rect x="311.5" y="62.8" width="3.2" height="4" fill="#444" opacity="0.9"/>
<rect x="314.7" y="62.8" width="4.3" height="4" fill="#8a8a8a" opacity="0.8"/>
<rect x="362" y="13.8" width="4.5" height="1.8" fill="#444" opacity="0.9"/>
<rect x="465.7" y="13.9" width="4.2" height="1.6" fill="#555" opacity="0.9"/>
<rect x="413.6" y="60" width="4.6" height="4.5" fill="#b0b0b0" opacity="0.8"/>
<rect x="414" y="63.8" width="3.6" height="2.4" fill="#555" opacity="0.9"/>
<rect x="362.8" y="114.7" width="4.5" height="1.5" fill="#666" opacity="0.85"/>
<rect x="413.5" y="13.8" width="4.5" height="16" rx="0.8" fill="url(#db)"/>
<rect x="517.2" y="13.8" width="4" height="15.6" rx="0.8" fill="url(#db)"/>
<rect x="310.9" y="114.9" width="16.3" height="1.7" fill="#555"/>
</g>
<g filter="url(#bl)">
<circle cx="366.2" cy="75.2" r="0.50" fill="#888" opacity="0.17"/>
<circle cx="356.0" cy="62.2" r="0.32" fill="#888" opacity="0.28"/>
<circle cx="385.6" cy="70.5" r="0.32" fill="#888" opacity="0.17"/>
<circle cx="345.0" cy="81.4" r="0.34" fill="#888" opacity="0.21"/>
<circle cx="344.6" cy="34.6" r="0.47" fill="#888" opacity="0.25"/>
<circle cx="374.6" cy="65.2" r="0.56" fill="#888" opacity="0.22"/>
<circle cx="374.6" cy="73.1" r="0.39" fill="#888" opacity="0.35"/>
<circle cx="378.3" cy="87.5" r="0.49" fill="#888" opacity="0.24"/>
<circle cx="364.8" cy="64.1" r="0.32" fill="#888" opacity="0.20"/>
<circle cx="363.3" cy="48.8" r="0.39" fill="#888" opacity="0.30"/>
<circle cx="357.9" cy="70.4" r="0.54" fill="#888" opacity="0.32"/>
<circle cx="370.7" cy="89.5" r="0.46" fill="#888" opacity="0.37"/>
<circle cx="368.4" cy="51.3" r="0.59" fill="#888" opacity="0.18"/>
<circle cx="348.0" cy="80.9" r="0.35" fill="#888" opacity="0.27"/>
<circle cx="391.6" cy="72.5" r="0.53" fill="#888" opacity="0.29"/>
<circle cx="379.2" cy="55.0" r="0.51" fill="#888" opacity="0.30"/>
<circle cx="355.5" cy="56.4" r="0.55" fill="#888" opacity="0.39"/>
<circle cx="348.1" cy="70.3" r="0.32" fill="#888" opacity="0.33"/>
<circle cx="375.4" cy="52.7" r="0.42" fill="#888" opacity="0.32"/>
<circle cx="386.5" cy="68.8" r="0.35" fill="#888" opacity="0.18"/>
<circle cx="393.9" cy="77.1" r="0.34" fill="#888" opacity="0.21"/>
<circle cx="346.5" cy="89.1" r="0.32" fill="#888" opacity="0.26"/>
<circle cx="340.4" cy="54.6" r="0.55" fill="#888" opacity="0.37"/>
<circle cx="367.2" cy="84.4" r="0.41" fill="#888" opacity="0.37"/>
<circle cx="378.3" cy="63.3" r="0.35" fill="#888" opacity="0.21"/>
<circle cx="371.8" cy="86.6" r="0.48" fill="#888" opacity="0.22"/>
<circle cx="385.6" cy="66.5" r="0.41" fill="#888" opacity="0.29"/>
<circle cx="392.0" cy="58.0" r="0.45" fill="#888" opacity="0.30"/>
<circle cx="367.8" cy="60.6" r="0.57" fill="#888" opacity="0.34"/>
<circle cx="388.9" cy="43.2" r="0.42" fill="#888" opacity="0.25"/>
<circle cx="386.9" cy="81.5" r="0.32" fill="#888" opacity="0.17"/>
<circle cx="372.3" cy="76.4" r="0.40" fill="#888" opacity="0.16"/>
<circle cx="378.6" cy="66.0" r="0.33" fill="#888" opacity="0.24"/>
<circle cx="400.2" cy="71.8" r="0.48" fill="#888" opacity="0.19"/>
<circle cx="369.8" cy="82.6" r="0.41" fill="#888" opacity="0.18"/>
<circle cx="353.1" cy="70.4" r="0.33" fill="#888" opacity="0.18"/>
<circle cx="363.5" cy="77.8" r="0.55" fill="#888" opacity="0.19"/>
<circle cx="406.5" cy="72.4" r="0.46" fill="#888" opacity="0.19"/>
<circle cx="366.6" cy="64.9" r="0.46" fill="#888" opacity="0.39"/>
<circle cx="385.1" cy="45.0" r="0.38" fill="#888" opacity="0.24"/>
<circle cx="382.8" cy="92.8" r="0.46" fill="#888" opacity="0.34"/>
<circle cx="364.9" cy="77.2" r="0.54" fill="#888" opacity="0.40"/>
<circle cx="386.3" cy="39.9" r="0.55" fill="#888" opacity="0.33"/>
<circle cx="372.6" cy="87.5" r="0.41" fill="#888" opacity="0.16"/>
<circle cx="382.0" cy="68.5" r="0.38" fill="#888" opacity="0.32"/>
<circle cx="385.7" cy="60.7" r="0.58" fill="#888" opacity="0.40"/>
<circle cx="383.7" cy="61.2" r="0.37" fill="#888" opacity="0.21"/>
<circle cx="373.3" cy="77.5" r="0.49" fill="#888" opacity="0.38"/>
<circle cx="379.2" cy="48.7" r="0.50" fill="#888" opacity="0.35"/>
<circle cx="389.0" cy="79.4" r="0.57" fill="#888" opacity="0.35"/>
<circle cx="370.0" cy="45.5" r="0.35" fill="#888" opacity="0.35"/>
<circle cx="356.6" cy="94.1" r="0.59" fill="#888" opacity="0.25"/>
<circle cx="340.4" cy="91.3" r="0.52" fill="#888" opacity="0.19"/>
<circle cx="376.0" cy="73.4" r="0.57" fill="#888" opacity="0.35"/>
<circle cx="387.0" cy="92.8" r="0.59" fill="#888" opacity="0.31"/>
<circle cx="358.8" cy="84.3" r="0.34" fill="#888" opacity="0.15"/>
<circle cx="391.4" cy="61.3" r="0.46" fill="#888" opacity="0.38"/>
<circle cx="342.2" cy="80.7" r="0.55" fill="#888" opacity="0.20"/>
<circle cx="369.9" cy="81.0" r="0.37" fill="#888" opacity="0.30"/>
<circle cx="369.1" cy="84.7" r="0.34" fill="#888" opacity="0.38"/>
<circle cx="359.9" cy="81.8" r="0.48" fill="#888" opacity="0.38"/>
<circle cx="340.6" cy="85.2" r="0.45" fill="#888" opacity="0.28"/>
<circle cx="367.1" cy="65.5" r="0.43" fill="#888" opacity="0.20"/>
<circle cx="396.9" cy="66.8" r="0.35" fill="#888" opacity="0.27"/>
<circle cx="367.0" cy="43.3" r="0.40" fill="#888" opacity="0.28"/>
<circle cx="345.3" cy="55.2" r="0.33" fill="#888" opacity="0.29"/>
<circle cx="370.1" cy="80.5" r="0.53" fill="#888" opacity="0.28"/>
<circle cx="346.5" cy="54.5" r="0.57" fill="#888" opacity="0.26"/>
<circle cx="356.5" cy="52.1" r="0.45" fill="#888" opacity="0.32"/>
<circle cx="352.3" cy="72.6" r="0.44" fill="#888" opacity="0.39"/>
<circle cx="360.4" cy="31.0" r="0.58" fill="#888" opacity="0.21"/>
<circle cx="336.5" cy="50.2" r="0.55" fill="#888" opacity="0.18"/>
<circle cx="381.7" cy="79.5" r="0.32" fill="#888" opacity="0.21"/>
<circle cx="390.0" cy="77.9" r="0.54" fill="#888" opacity="0.37"/>
<circle cx="383.4" cy="89.6" r="0.50" fill="#888" opacity="0.19"/>
<circle cx="356.1" cy="78.4" r="0.60" fill="#888" opacity="0.36"/>
<circle cx="378.4" cy="82.2" r="0.45" fill="#888" opacity="0.23"/>
<circle cx="374.4" cy="80.9" r="0.52" fill="#888" opacity="0.15"/>
<circle cx="354.8" cy="59.5" r="0.31" fill="#888" opacity="0.23"/>
<circle cx="357.2" cy="50.9" r="0.32" fill="#888" opacity="0.40"/>
<circle cx="379.3" cy="74.7" r="0.31" fill="#888" opacity="0.34"/>
<circle cx="369.0" cy="75.4" r="0.43" fill="#888" opacity="0.38"/>
<circle cx="374.9" cy="53.4" r="0.34" fill="#888" opacity="0.38"/>
<circle cx="349.0" cy="54.0" r="0.33" fill="#888" opacity="0.16"/>
<circle cx="364.0" cy="48.5" r="0.32" fill="#888" opacity="0.38"/>
<circle cx="352.1" cy="41.8" r="0.33" fill="#888" opacity="0.36"/>
<circle cx="397.3" cy="80.6" r="0.44" fill="#888" opacity="0.23"/>
<circle cx="337.6" cy="52.5" r="0.38" fill="#888" opacity="0.18"/>
<circle cx="359.1" cy="63.8" r="0.33" fill="#888" opacity="0.19"/>
<circle cx="379.6" cy="69.8" r="0.39" fill="#888" opacity="0.23"/>
<circle cx="370.7" cy="51.1" r="0.45" fill="#888" opacity="0.19"/>
<circle cx="368.4" cy="68.8" r="0.38" fill="#888" opacity="0.15"/>
<circle cx="368.0" cy="43.3" r="0.36" fill="#888" opacity="0.27"/>
<circle cx="376.5" cy="62.6" r="0.55" fill="#888" opacity="0.26"/>
<circle cx="341.6" cy="67.1" r="0.42" fill="#888" opacity="0.28"/>
<circle cx="354.4" cy="94.4" r="0.51" fill="#888" opacity="0.31"/>
<circle cx="358.5" cy="75.4" r="0.32" fill="#888" opacity="0.18"/>
<circle cx="392.3" cy="78.7" r="0.38" fill="#888" opacity="0.19"/>
<circle cx="394.8" cy="83.5" r="0.56" fill="#888" opacity="0.32"/>
<circle cx="367.8" cy="79.1" r="0.39" fill="#888" opacity="0.26"/>
<circle cx="378.9" cy="82.3" r="0.38" fill="#888" opacity="0.39"/>
<circle cx="388.6" cy="62.1" r="0.37" fill="#888" opacity="0.39"/>
<circle cx="364.9" cy="81.7" r="0.30" fill="#888" opacity="0.25"/>
<circle cx="352.5" cy="69.4" r="0.36" fill="#888" opacity="0.28"/>
<circle cx="381.7" cy="66.4" r="0.33" fill="#888" opacity="0.25"/>
<circle cx="373.1" cy="67.0" r="0.39" fill="#888" opacity="0.21"/>
<circle cx="354.2" cy="54.7" r="0.53" fill="#888" opacity="0.31"/>
<circle cx="363.5" cy="29.8" r="0.42" fill="#888" opacity="0.23"/>
<circle cx="378.5" cy="65.0" r="0.52" fill="#888" opacity="0.31"/>
<circle cx="397.4" cy="75.3" r="0.57" fill="#888" opacity="0.31"/>
<circle cx="367.2" cy="33.2" r="0.34" fill="#888" opacity="0.28"/>
<circle cx="341.5" cy="65.1" r="0.54" fill="#888" opacity="0.36"/>
<circle cx="342.6" cy="46.8" r="0.50" fill="#888" opacity="0.32"/>
<circle cx="370.5" cy="70.5" r="0.34" fill="#888" opacity="0.24"/>
<circle cx="392.5" cy="87.0" r="0.47" fill="#888" opacity="0.31"/>
<circle cx="354.1" cy="46.6" r="0.45" fill="#888" opacity="0.15"/>
<circle cx="377.4" cy="37.4" r="0.45" fill="#888" opacity="0.28"/>
<circle cx="367.0" cy="60.4" r="0.52" fill="#888" opacity="0.21"/>
<circle cx="380.5" cy="72.4" r="0.52" fill="#888" opacity="0.20"/>
<circle cx="355.3" cy="66.7" r="0.44" fill="#888" opacity="0.32"/>
<circle cx="363.4" cy="40.8" r="0.52" fill="#888" opacity="0.22"/>
<circle cx="364.4" cy="62.7" r="0.56" fill="#888" opacity="0.28"/>
<circle cx="362.6" cy="55.3" r="0.32" fill="#888" opacity="0.27"/>
<circle cx="360.8" cy="41.1" r="0.54" fill="#888" opacity="0.27"/>
<circle cx="359.7" cy="54.7" r="0.46" fill="#888" opacity="0.23"/>
<circle cx="364.6" cy="51.5" r="0.64" fill="#888" opacity="0.43"/>
<circle cx="366.3" cy="57.3" r="0.59" fill="#888" opacity="0.44"/>
<circle cx="360.7" cy="58.7" r="0.37" fill="#888" opacity="0.44"/>
<circle cx="364.0" cy="70.1" r="0.35" fill="#888" opacity="0.33"/>
<circle cx="364.5" cy="54.3" r="0.59" fill="#888" opacity="0.33"/>
<circle cx="366.5" cy="44.8" r="0.38" fill="#888" opacity="0.42"/>
<circle cx="362.3" cy="56.2" r="0.30" fill="#888" opacity="0.32"/>
<circle cx="360.6" cy="58.8" r="0.35" fill="#888" opacity="0.29"/>
<circle cx="360.7" cy="75.3" r="0.30" fill="#888" opacity="0.39"/>
<circle cx="363.8" cy="51.3" r="0.62" fill="#888" opacity="0.38"/>
<circle cx="365.0" cy="50.7" r="0.43" fill="#888" opacity="0.30"/>
<circle cx="367.0" cy="55.9" r="0.43" fill="#888" opacity="0.31"/>
<circle cx="362.9" cy="59.4" r="0.34" fill="#888" opacity="0.41"/>
<circle cx="361.4" cy="81.1" r="0.39" fill="#888" opacity="0.27"/>
<circle cx="361.1" cy="55.5" r="0.43" fill="#888" opacity="0.44"/>
<circle cx="367.1" cy="42.6" r="0.52" fill="#888" opacity="0.43"/>
<circle cx="366.5" cy="50.9" r="0.55" fill="#888" opacity="0.21"/>
<circle cx="362.6" cy="44.0" r="0.56" fill="#888" opacity="0.36"/>
<circle cx="362.8" cy="59.4" r="0.62" fill="#888" opacity="0.23"/>
<circle cx="360.3" cy="57.8" r="0.40" fill="#888" opacity="0.38"/>
<circle cx="365.3" cy="54.7" r="0.53" fill="#888" opacity="0.28"/>
<circle cx="360.2" cy="52.1" r="0.36" fill="#888" opacity="0.24"/>
<circle cx="364.7" cy="79.1" r="0.47" fill="#888" opacity="0.26"/>
<circle cx="371.4" cy="35.5" r="0.46" fill="#888" opacity="0.23"/>
<circle cx="363.5" cy="60.5" r="0.42" fill="#888" opacity="0.22"/>
<circle cx="363.2" cy="64.5" r="0.50" fill="#888" opacity="0.42"/>
<circle cx="363.0" cy="44.6" r="0.44" fill="#888" opacity="0.33"/>
<circle cx="361.1" cy="63.0" r="0.32" fill="#888" opacity="0.27"/>
<circle cx="364.5" cy="54.8" r="0.48" fill="#888" opacity="0.36"/>
<circle cx="364.4" cy="50.2" r="0.39" fill="#888" opacity="0.26"/>
<circle cx="360.4" cy="63.0" r="0.63" fill="#888" opacity="0.41"/>
<circle cx="363.4" cy="54.3" r="0.31" fill="#888" opacity="0.38"/>
<circle cx="365.7" cy="48.4" r="0.51" fill="#888" opacity="0.20"/>
<circle cx="357.7" cy="71.8" r="0.59" fill="#888" opacity="0.41"/>
<circle cx="365.2" cy="54.6" r="0.34" fill="#888" opacity="0.24"/>
<circle cx="358.5" cy="53.7" r="0.63" fill="#888" opacity="0.38"/>
<circle cx="359.9" cy="41.0" r="0.46" fill="#888" opacity="0.34"/>
<circle cx="368.1" cy="60.7" r="0.38" fill="#888" opacity="0.43"/>
<circle cx="361.4" cy="48.6" r="0.34" fill="#888" opacity="0.26"/>
<circle cx="360.0" cy="43.1" r="0.34" fill="#888" opacity="0.22"/>
<g filter="url(#bl3)">
<ellipse cx="469.6" cy="49.8" rx="5.5" ry="4.5" fill="#6a6a6a" opacity="0.42"/>
<ellipse cx="465.7" cy="63.7" rx="5.5" ry="5.5" fill="#6a6a6a" opacity="0.42"/>
<ellipse cx="454.8" cy="44.9" rx="3" ry="3" fill="#6a6a6a" opacity="0.3"/>
<ellipse cx="454.8" cy="58.8" rx="3.2" ry="3" fill="#6a6a6a" opacity="0.3"/>
<ellipse cx="436.9" cy="54.8" rx="2.6" ry="2.6" fill="#6a6a6a" opacity="0.3"/>
<ellipse cx="505.4" cy="53.8" rx="2.4" ry="2.4" fill="#6a6a6a" opacity="0.45"/>
<ellipse cx="504.4" cy="65.7" rx="1.8" ry="2.4" fill="#6a6a6a" opacity="0.3"/>
<ellipse cx="482.5" cy="81.6" rx="3" ry="2.4" fill="#6a6a6a" opacity="0.38"/>
<ellipse cx="478.6" cy="72.7" rx="2" ry="2" fill="#6a6a6a" opacity="0.3"/>
<ellipse cx="483.5" cy="51.8" rx="2.2" ry="3.6" fill="#6a6a6a" opacity="0.22"/>
<ellipse cx="467.7" cy="79.6" rx="2.5" ry="2" fill="#6a6a6a" opacity="0.18"/>
<ellipse cx="462" cy="55" rx="6" ry="6" fill="#6a6a6a" opacity="0.15"/>
</g>
<circle cx="443.2" cy="60.4" r="0.42" fill="#666" opacity="0.27"/>
<circle cx="465.8" cy="62.5" r="0.39" fill="#666" opacity="0.34"/>
<circle cx="494.4" cy="57.4" r="0.57" fill="#666" opacity="0.34"/>
<circle cx="469.4" cy="77.5" r="0.59" fill="#666" opacity="0.41"/>
<circle cx="466.6" cy="67.5" r="0.45" fill="#666" opacity="0.40"/>
<circle cx="455.2" cy="70.7" r="0.50" fill="#666" opacity="0.48"/>
<circle cx="468.7" cy="68.7" r="0.40" fill="#666" opacity="0.33"/>
<circle cx="462.8" cy="53.1" r="0.54" fill="#666" opacity="0.42"/>
<circle cx="455.1" cy="63.6" r="0.59" fill="#666" opacity="0.29"/>
<circle cx="473.9" cy="52.2" r="0.37" fill="#666" opacity="0.43"/>
<circle cx="455.8" cy="64.3" r="0.37" fill="#666" opacity="0.33"/>
<circle cx="479.5" cy="78.3" r="0.36" fill="#666" opacity="0.49"/>
<circle cx="471.9" cy="68.6" r="0.32" fill="#666" opacity="0.32"/>
<circle cx="499.6" cy="41.7" r="0.52" fill="#666" opacity="0.50"/>
<circle cx="483.4" cy="57.3" r="0.36" fill="#666" opacity="0.48"/>
<circle cx="467.9" cy="59.4" r="0.50" fill="#666" opacity="0.31"/>
<circle cx="456.0" cy="75.5" r="0.35" fill="#666" opacity="0.20"/>
<circle cx="464.7" cy="80.5" r="0.59" fill="#666" opacity="0.24"/>
<circle cx="480.6" cy="61.3" r="0.41" fill="#666" opacity="0.45"/>
<circle cx="476.8" cy="46.8" r="0.31" fill="#666" opacity="0.34"/>
<circle cx="474.3" cy="80.0" r="0.57" fill="#666" opacity="0.21"/>
<circle cx="438.6" cy="81.5" r="0.53" fill="#666" opacity="0.21"/>
<circle cx="474.7" cy="65.4" r="0.58" fill="#666" opacity="0.28"/>
<circle cx="467.3" cy="25.5" r="0.40" fill="#666" opacity="0.28"/>
<circle cx="493.4" cy="57.4" r="0.38" fill="#666" opacity="0.41"/>
<circle cx="461.8" cy="77.2" r="0.30" fill="#666" opacity="0.43"/>
<circle cx="491.3" cy="51.2" r="0.58" fill="#666" opacity="0.21"/>
<circle cx="470.2" cy="84.3" r="0.59" fill="#666" opacity="0.49"/>
<circle cx="457.1" cy="73.0" r="0.43" fill="#666" opacity="0.35"/>
<circle cx="478.9" cy="59.0" r="0.54" fill="#666" opacity="0.42"/>
<circle cx="482.4" cy="36.2" r="0.48" fill="#666" opacity="0.30"/>
<circle cx="460.4" cy="79.5" r="0.53" fill="#666" opacity="0.22"/>
<circle cx="478.3" cy="92.5" r="0.37" fill="#666" opacity="0.22"/>
<circle cx="491.6" cy="68.8" r="0.40" fill="#666" opacity="0.49"/>
<circle cx="467.3" cy="71.5" r="0.33" fill="#666" opacity="0.35"/>
<circle cx="462.8" cy="45.0" r="0.37" fill="#666" opacity="0.33"/>
<circle cx="447.3" cy="45.5" r="0.52" fill="#666" opacity="0.45"/>
<circle cx="463.1" cy="56.1" r="0.55" fill="#666" opacity="0.29"/>
<circle cx="451.2" cy="56.9" r="0.52" fill="#666" opacity="0.26"/>
<circle cx="468.2" cy="77.5" r="0.35" fill="#666" opacity="0.47"/>
<circle cx="453.1" cy="56.4" r="0.42" fill="#666" opacity="0.50"/>
<circle cx="454.2" cy="63.4" r="0.54" fill="#666" opacity="0.40"/>
<circle cx="476.8" cy="63.5" r="0.44" fill="#666" opacity="0.45"/>
<circle cx="483.3" cy="67.8" r="0.34" fill="#666" opacity="0.26"/>
<circle cx="492.8" cy="60.0" r="0.58" fill="#666" opacity="0.31"/>
<circle cx="481.8" cy="49.3" r="0.38" fill="#666" opacity="0.43"/>
<circle cx="476.5" cy="61.2" r="0.48" fill="#666" opacity="0.39"/>
<circle cx="471.7" cy="80.9" r="0.34" fill="#666" opacity="0.26"/>
<circle cx="467.2" cy="88.3" r="0.50" fill="#666" opacity="0.26"/>
<circle cx="484.9" cy="65.1" r="0.50" fill="#666" opacity="0.26"/>
<circle cx="463.1" cy="75.2" r="0.54" fill="#666" opacity="0.36"/>
<circle cx="476.1" cy="67.2" r="0.42" fill="#666" opacity="0.37"/>
<circle cx="462.7" cy="58.0" r="0.35" fill="#666" opacity="0.41"/>
<circle cx="454.9" cy="71.9" r="0.39" fill="#666" opacity="0.49"/>
<circle cx="458.6" cy="85.5" r="0.41" fill="#666" opacity="0.32"/>
<circle cx="459.7" cy="73.0" r="0.52" fill="#666" opacity="0.26"/>
<circle cx="436.8" cy="79.4" r="0.42" fill="#666" opacity="0.46"/>
<circle cx="457.0" cy="66.6" r="0.30" fill="#666" opacity="0.37"/>
<circle cx="441.6" cy="33.5" r="0.33" fill="#666" opacity="0.39"/>
<circle cx="452.5" cy="79.5" r="0.34" fill="#666" opacity="0.28"/>
<circle cx="485.1" cy="77.2" r="0.54" fill="#666" opacity="0.49"/>
<circle cx="471.2" cy="72.9" r="0.58" fill="#666" opacity="0.49"/>
<circle cx="461.7" cy="64.6" r="0.58" fill="#666" opacity="0.32"/>
<circle cx="489.8" cy="49.8" r="0.55" fill="#666" opacity="0.25"/>
<circle cx="471.0" cy="51.6" r="0.42" fill="#666" opacity="0.45"/>
<circle cx="473.8" cy="53.9" r="0.37" fill="#666" opacity="0.32"/>
<circle cx="449.4" cy="62.0" r="0.34" fill="#666" opacity="0.27"/>
<circle cx="461.6" cy="26.1" r="0.31" fill="#666" opacity="0.37"/>
<circle cx="468.2" cy="59.0" r="0.55" fill="#666" opacity="0.24"/>
<circle cx="448.5" cy="50.7" r="0.49" fill="#666" opacity="0.29"/>
<circle cx="446.0" cy="75.5" r="0.43" fill="#666" opacity="0.40"/>
<circle cx="448.7" cy="70.3" r="0.31" fill="#666" opacity="0.39"/>
<circle cx="454.1" cy="64.9" r="0.53" fill="#666" opacity="0.43"/>
<circle cx="456.5" cy="66.9" r="0.44" fill="#666" opacity="0.23"/>
<circle cx="481.9" cy="77.8" r="0.33" fill="#666" opacity="0.33"/>
<circle cx="462.5" cy="63.7" r="0.49" fill="#666" opacity="0.22"/>
<circle cx="464.6" cy="33.0" r="0.45" fill="#666" opacity="0.22"/>
<circle cx="449.5" cy="63.6" r="0.59" fill="#666" opacity="0.24"/>
<circle cx="464.1" cy="31.1" r="0.36" fill="#666" opacity="0.49"/>
<circle cx="477.9" cy="58.6" r="0.54" fill="#666" opacity="0.48"/>
<circle cx="484.2" cy="70.7" r="0.53" fill="#666" opacity="0.25"/>
<circle cx="480.1" cy="55.3" r="0.54" fill="#666" opacity="0.24"/>
<circle cx="471.8" cy="77.6" r="0.45" fill="#666" opacity="0.30"/>
<circle cx="479.7" cy="66.6" r="0.35" fill="#666" opacity="0.48"/>
<circle cx="450.7" cy="29.4" r="0.35" fill="#666" opacity="0.44"/>
<circle cx="485.5" cy="78.7" r="0.49" fill="#666" opacity="0.31"/>
<circle cx="484.9" cy="47.6" r="0.47" fill="#666" opacity="0.46"/>
<circle cx="455.0" cy="50.9" r="0.54" fill="#666" opacity="0.28"/>
<circle cx="492.9" cy="62.6" r="0.41" fill="#666" opacity="0.43"/>
<circle cx="456.9" cy="68.0" r="0.52" fill="#666" opacity="0.21"/>
<circle cx="474.2" cy="51.5" r="0.49" fill="#666" opacity="0.50"/>
<circle cx="443.9" cy="50.3" r="0.39" fill="#666" opacity="0.20"/>
<circle cx="478.6" cy="66.2" r="0.48" fill="#666" opacity="0.33"/>
<circle cx="427.7" cy="61.0" r="0.34" fill="#666" opacity="0.27"/>
<circle cx="465.7" cy="60.9" r="0.30" fill="#666" opacity="0.31"/>
<circle cx="482.0" cy="74.5" r="0.37" fill="#666" opacity="0.38"/>
<circle cx="457.1" cy="57.5" r="0.49" fill="#666" opacity="0.34"/>
<circle cx="468.4" cy="74.2" r="0.33" fill="#666" opacity="0.39"/>
<circle cx="490.9" cy="41.3" r="0.42" fill="#666" opacity="0.28"/>
<circle cx="495.3" cy="65.9" r="0.47" fill="#666" opacity="0.31"/>
<circle cx="455.4" cy="48.6" r="0.58" fill="#666" opacity="0.42"/>
<circle cx="468.4" cy="102.9" r="0.31" fill="#666" opacity="0.36"/>
<circle cx="456.4" cy="71.4" r="0.32" fill="#666" opacity="0.43"/>
<circle cx="492.0" cy="65.8" r="0.58" fill="#666" opacity="0.24"/>
<circle cx="476.1" cy="87.4" r="0.45" fill="#666" opacity="0.39"/>
<circle cx="472.6" cy="53.7" r="0.39" fill="#666" opacity="0.29"/>
<circle cx="474.2" cy="36.1" r="0.30" fill="#666" opacity="0.45"/>
<circle cx="467.4" cy="43.9" r="0.52" fill="#666" opacity="0.34"/>
<circle cx="469.3" cy="72.4" r="0.37" fill="#666" opacity="0.21"/>
<circle cx="451.8" cy="89.7" r="0.51" fill="#666" opacity="0.45"/>
<circle cx="464.4" cy="50.3" r="0.47" fill="#666" opacity="0.33"/>
<circle cx="473.5" cy="42.7" r="0.38" fill="#666" opacity="0.39"/>
<circle cx="481.0" cy="61.3" r="0.56" fill="#666" opacity="0.20"/>
<circle cx="467.1" cy="77.2" r="0.52" fill="#666" opacity="0.48"/>
<circle cx="467.6" cy="48.0" r="0.56" fill="#666" opacity="0.30"/>
<circle cx="470.8" cy="103.2" r="0.49" fill="#666" opacity="0.41"/>
<circle cx="432.3" cy="70.6" r="0.51" fill="#666" opacity="0.46"/>
<circle cx="439.8" cy="75.1" r="0.47" fill="#666" opacity="0.29"/>
<circle cx="474.3" cy="88.4" r="0.32" fill="#666" opacity="0.47"/>
<circle cx="470.7" cy="67.3" r="0.33" fill="#666" opacity="0.48"/>
<circle cx="462.1" cy="72.2" r="0.31" fill="#666" opacity="0.21"/>
<circle cx="458.5" cy="40.1" r="0.51" fill="#666" opacity="0.42"/>
<circle cx="491.3" cy="73.7" r="0.41" fill="#666" opacity="0.45"/>
<circle cx="484.9" cy="29.6" r="0.32" fill="#666" opacity="0.46"/>
<circle cx="478.1" cy="71.6" r="0.33" fill="#666" opacity="0.21"/>
<circle cx="488.0" cy="37.1" r="0.49" fill="#666" opacity="0.45"/>
<circle cx="457.4" cy="53.1" r="0.33" fill="#666" opacity="0.23"/>
<circle cx="468.6" cy="51.8" r="0.40" fill="#666" opacity="0.33"/>
<circle cx="482.5" cy="65.8" r="0.38" fill="#666" opacity="0.41"/>
<circle cx="456.7" cy="75.7" r="0.59" fill="#666" opacity="0.35"/>
<circle cx="483.7" cy="43.9" r="0.31" fill="#666" opacity="0.32"/>
<circle cx="437.9" cy="76.1" r="0.40" fill="#666" opacity="0.41"/>
<circle cx="455.1" cy="61.0" r="0.56" fill="#666" opacity="0.23"/>
<circle cx="472.9" cy="54.0" r="0.30" fill="#666" opacity="0.26"/>
<circle cx="490.1" cy="64.6" r="0.45" fill="#666" opacity="0.44"/>
<circle cx="476.9" cy="83.3" r="0.40" fill="#666" opacity="0.45"/>
<circle cx="465.2" cy="76.2" r="0.51" fill="#666" opacity="0.35"/>
<circle cx="488.8" cy="80.3" r="0.32" fill="#666" opacity="0.44"/>
<circle cx="457.1" cy="34.1" r="0.49" fill="#666" opacity="0.31"/>
<circle cx="452.5" cy="74.5" r="0.57" fill="#666" opacity="0.23"/>
<circle cx="471.3" cy="61.4" r="0.36" fill="#666" opacity="0.28"/>
<circle cx="486.2" cy="51.7" r="0.41" fill="#666" opacity="0.47"/>
<circle cx="470.2" cy="83.9" r="0.46" fill="#666" opacity="0.43"/>
<circle cx="468.5" cy="38.1" r="0.40" fill="#666" opacity="0.30"/>
<circle cx="488.5" cy="92.7" r="0.50" fill="#666" opacity="0.42"/>
<circle cx="477.9" cy="80.9" r="0.53" fill="#666" opacity="0.37"/>
<circle cx="482.9" cy="78.3" r="0.57" fill="#666" opacity="0.27"/>
<circle cx="473.8" cy="78.2" r="0.51" fill="#666" opacity="0.45"/>
<circle cx="474.2" cy="72.7" r="0.37" fill="#666" opacity="0.30"/>
<circle cx="456.9" cy="62.5" r="0.40" fill="#666" opacity="0.26"/>
<circle cx="498.3" cy="59.5" r="0.33" fill="#666" opacity="0.49"/>
<circle cx="483.0" cy="74.6" r="0.60" fill="#666" opacity="0.44"/>
<circle cx="465.9" cy="44.9" r="0.36" fill="#666" opacity="0.39"/>
<circle cx="478.1" cy="71.6" r="0.42" fill="#666" opacity="0.21"/>
<circle cx="440.9" cy="82.9" r="0.51" fill="#666" opacity="0.35"/>
<circle cx="453.7" cy="49.2" r="0.34" fill="#666" opacity="0.38"/>
<circle cx="442.2" cy="80.7" r="0.57" fill="#666" opacity="0.33"/>
<circle cx="439.8" cy="50.6" r="0.43" fill="#666" opacity="0.27"/>
<circle cx="461.2" cy="27.5" r="0.53" fill="#666" opacity="0.41"/>
<circle cx="485.2" cy="42.3" r="0.49" fill="#666" opacity="0.34"/>
<circle cx="457.7" cy="87.4" r="0.33" fill="#666" opacity="0.33"/>
<circle cx="474.1" cy="36.1" r="0.49" fill="#666" opacity="0.28"/>
<circle cx="449.4" cy="73.2" r="0.49" fill="#666" opacity="0.32"/>
<circle cx="479.3" cy="88.0" r="0.53" fill="#666" opacity="0.32"/>
<circle cx="491.1" cy="69.4" r="0.35" fill="#666" opacity="0.43"/>
<circle cx="489.4" cy="56.1" r="0.33" fill="#666" opacity="0.37"/>
<circle cx="438.8" cy="56.7" r="0.45" fill="#666" opacity="0.39"/>
<circle cx="479.0" cy="44.8" r="0.42" fill="#666" opacity="0.48"/>
<circle cx="475.2" cy="90.5" r="0.42" fill="#666" opacity="0.43"/>
<circle cx="464.0" cy="68.8" r="0.38" fill="#666" opacity="0.32"/>
<circle cx="473.3" cy="50.1" r="0.61" fill="#505050" opacity="0.64"/>
<circle cx="467.9" cy="51.7" r="0.51" fill="#505050" opacity="0.65"/>
<circle cx="473.7" cy="48.4" r="0.51" fill="#505050" opacity="0.68"/>
<circle cx="467.7" cy="51.1" r="0.46" fill="#505050" opacity="0.67"/>
<circle cx="471.5" cy="45.8" r="0.63" fill="#505050" opacity="0.59"/>
<circle cx="471.0" cy="57.4" r="0.58" fill="#505050" opacity="0.61"/>
<circle cx="472.4" cy="44.8" r="0.63" fill="#505050" opacity="0.49"/>
<circle cx="467.8" cy="49.3" r="0.82" fill="#505050" opacity="0.51"/>
<circle cx="471.3" cy="47.9" r="0.59" fill="#505050" opacity="0.47"/>
<circle cx="467.5" cy="50.7" r="0.40" fill="#505050" opacity="0.65"/>
<circle cx="469.1" cy="52.0" r="0.55" fill="#505050" opacity="0.55"/>
<circle cx="465.0" cy="51.7" r="0.73" fill="#505050" opacity="0.51"/>
<circle cx="476.0" cy="47.2" r="0.43" fill="#505050" opacity="0.69"/>
<circle cx="474.8" cy="46.9" r="0.47" fill="#505050" opacity="0.69"/>
<circle cx="469.2" cy="49.4" r="0.41" fill="#505050" opacity="0.73"/>
<circle cx="468.1" cy="47.9" r="0.45" fill="#505050" opacity="0.43"/>
<circle cx="470.2" cy="55.0" r="0.57" fill="#505050" opacity="0.43"/>
<circle cx="474.9" cy="46.8" r="0.48" fill="#505050" opacity="0.71"/>
<circle cx="464.7" cy="46.5" r="0.73" fill="#505050" opacity="0.71"/>
<circle cx="471.2" cy="44.2" r="0.50" fill="#505050" opacity="0.63"/>
<circle cx="463.8" cy="48.9" r="0.62" fill="#505050" opacity="0.71"/>
<circle cx="466.9" cy="49.0" r="0.52" fill="#505050" opacity="0.43"/>
<circle cx="468.4" cy="49.8" r="0.63" fill="#505050" opacity="0.43"/>
<circle cx="465.4" cy="50.0" r="0.67" fill="#505050" opacity="0.70"/>
<circle cx="476.5" cy="50.0" r="0.63" fill="#505050" opacity="0.59"/>
<circle cx="466.1" cy="44.8" r="0.59" fill="#505050" opacity="0.53"/>
<circle cx="471.0" cy="49.5" r="0.72" fill="#505050" opacity="0.61"/>
<circle cx="474.5" cy="50.5" r="0.74" fill="#505050" opacity="0.72"/>
<circle cx="464.7" cy="57.2" r="0.66" fill="#505050" opacity="0.56"/>
<circle cx="470.4" cy="49.3" r="0.76" fill="#505050" opacity="0.61"/>
<circle cx="465.8" cy="54.9" r="0.58" fill="#505050" opacity="0.55"/>
<circle cx="463.5" cy="49.0" r="0.51" fill="#505050" opacity="0.54"/>
<circle cx="465.6" cy="51.6" r="0.81" fill="#505050" opacity="0.48"/>
<circle cx="471.3" cy="47.1" r="0.65" fill="#505050" opacity="0.48"/>
<circle cx="459.8" cy="49.5" r="0.73" fill="#505050" opacity="0.67"/>
<circle cx="468.1" cy="52.1" r="0.55" fill="#505050" opacity="0.59"/>
<circle cx="465.4" cy="45.9" r="0.42" fill="#505050" opacity="0.65"/>
<circle cx="473.0" cy="47.3" r="0.42" fill="#505050" opacity="0.49"/>
<circle cx="471.9" cy="49.9" r="0.86" fill="#505050" opacity="0.60"/>
<circle cx="466.1" cy="45.4" r="0.85" fill="#505050" opacity="0.60"/>
<circle cx="465.8" cy="47.0" r="0.75" fill="#505050" opacity="0.60"/>
<circle cx="468.6" cy="47.9" r="0.73" fill="#505050" opacity="0.55"/>
<circle cx="469.7" cy="48.4" r="0.49" fill="#505050" opacity="0.39"/>
<circle cx="470.8" cy="43.2" r="0.73" fill="#505050" opacity="0.51"/>
<circle cx="472.4" cy="45.1" r="0.68" fill="#505050" opacity="0.47"/>
<circle cx="468.4" cy="52.8" r="0.56" fill="#505050" opacity="0.54"/>
<circle cx="464.3" cy="44.4" r="0.43" fill="#505050" opacity="0.59"/>
<circle cx="471.4" cy="50.2" r="0.81" fill="#505050" opacity="0.59"/>
<circle cx="473.0" cy="48.2" r="0.41" fill="#505050" opacity="0.52"/>
<circle cx="462.5" cy="45.9" r="0.89" fill="#505050" opacity="0.55"/>
<circle cx="468.2" cy="50.5" r="0.72" fill="#505050" opacity="0.45"/>
<circle cx="470.0" cy="50.2" r="0.40" fill="#505050" opacity="0.63"/>
<circle cx="476.4" cy="55.2" r="0.44" fill="#505050" opacity="0.70"/>
<circle cx="470.1" cy="50.2" r="0.76" fill="#505050" opacity="0.47"/>
<circle cx="469.4" cy="47.9" r="0.43" fill="#505050" opacity="0.67"/>
<circle cx="468.0" cy="44.1" r="0.76" fill="#505050" opacity="0.41"/>
<circle cx="465.7" cy="46.4" r="0.63" fill="#505050" opacity="0.72"/>
<circle cx="469.4" cy="57.5" r="0.76" fill="#505050" opacity="0.38"/>
<circle cx="474.8" cy="50.2" r="0.81" fill="#505050" opacity="0.40"/>
<circle cx="467.4" cy="54.3" r="0.48" fill="#505050" opacity="0.70"/>
<circle cx="464.5" cy="63.8" r="0.58" fill="#505050" opacity="0.59"/>
<circle cx="460.8" cy="65.7" r="0.47" fill="#505050" opacity="0.67"/>
<circle cx="462.4" cy="67.6" r="0.71" fill="#505050" opacity="0.53"/>
<circle cx="461.1" cy="67.9" r="0.87" fill="#505050" opacity="0.67"/>
<circle cx="463.0" cy="62.5" r="0.43" fill="#505050" opacity="0.74"/>
<circle cx="463.8" cy="57.2" r="0.57" fill="#505050" opacity="0.60"/>
<circle cx="472.2" cy="62.7" r="0.70" fill="#505050" opacity="0.49"/>
<circle cx="459.1" cy="67.0" r="0.59" fill="#505050" opacity="0.63"/>
<circle cx="459.7" cy="59.1" r="0.80" fill="#505050" opacity="0.48"/>
<circle cx="468.4" cy="63.7" r="0.61" fill="#505050" opacity="0.59"/>
<circle cx="468.6" cy="56.8" r="0.42" fill="#505050" opacity="0.69"/>
<circle cx="468.4" cy="57.0" r="0.69" fill="#505050" opacity="0.48"/>
<circle cx="469.5" cy="58.4" r="0.74" fill="#505050" opacity="0.72"/>
<circle cx="464.9" cy="64.9" r="0.68" fill="#505050" opacity="0.67"/>
<circle cx="467.5" cy="69.4" r="0.87" fill="#505050" opacity="0.46"/>
<circle cx="461.6" cy="60.3" r="0.63" fill="#505050" opacity="0.45"/>
<circle cx="465.5" cy="69.7" r="0.80" fill="#505050" opacity="0.55"/>
<circle cx="471.1" cy="67.1" r="0.79" fill="#505050" opacity="0.46"/>
<circle cx="459.2" cy="60.0" r="0.84" fill="#505050" opacity="0.57"/>
<circle cx="461.1" cy="64.4" r="0.49" fill="#505050" opacity="0.45"/>
<circle cx="468.0" cy="68.8" r="0.58" fill="#505050" opacity="0.59"/>
<circle cx="462.2" cy="66.2" r="0.47" fill="#505050" opacity="0.39"/>
<circle cx="469.1" cy="63.6" r="0.45" fill="#505050" opacity="0.61"/>
<circle cx="466.2" cy="61.7" r="0.70" fill="#505050" opacity="0.50"/>
<circle cx="465.0" cy="63.6" r="0.42" fill="#505050" opacity="0.75"/>
<circle cx="468.4" cy="60.6" r="0.68" fill="#505050" opacity="0.47"/>
<circle cx="466.4" cy="60.0" r="0.87" fill="#505050" opacity="0.66"/>
<circle cx="469.5" cy="55.3" r="0.53" fill="#505050" opacity="0.39"/>
<circle cx="466.4" cy="65.9" r="0.44" fill="#505050" opacity="0.39"/>
<circle cx="459.1" cy="61.1" r="0.63" fill="#505050" opacity="0.73"/>
<circle cx="466.8" cy="63.0" r="0.70" fill="#505050" opacity="0.52"/>
<circle cx="472.2" cy="69.9" r="0.53" fill="#505050" opacity="0.59"/>
<circle cx="460.1" cy="56.7" r="0.73" fill="#505050" opacity="0.52"/>
<circle cx="463.7" cy="64.4" r="0.88" fill="#505050" opacity="0.75"/>
<circle cx="465.9" cy="64.7" r="0.53" fill="#505050" opacity="0.51"/>
<circle cx="471.9" cy="59.2" r="0.82" fill="#505050" opacity="0.39"/>
<circle cx="466.9" cy="58.2" r="0.72" fill="#505050" opacity="0.74"/>
<circle cx="467.5" cy="64.4" r="0.78" fill="#505050" opacity="0.73"/>
<circle cx="464.4" cy="61.0" r="0.70" fill="#505050" opacity="0.66"/>
<circle cx="468.1" cy="65.7" r="0.53" fill="#505050" opacity="0.42"/>
<circle cx="463.6" cy="64.0" r="0.52" fill="#505050" opacity="0.43"/>
<circle cx="465.5" cy="63.2" r="0.76" fill="#505050" opacity="0.45"/>
<circle cx="473.5" cy="65.6" r="0.51" fill="#505050" opacity="0.73"/>
<circle cx="470.6" cy="58.1" r="0.47" fill="#505050" opacity="0.54"/>
<circle cx="472.3" cy="68.4" r="0.82" fill="#505050" opacity="0.61"/>
<circle cx="462.7" cy="64.7" r="0.81" fill="#505050" opacity="0.55"/>
<circle cx="464.4" cy="62.3" r="0.51" fill="#505050" opacity="0.40"/>
<circle cx="464.7" cy="59.2" r="0.47" fill="#505050" opacity="0.70"/>
<circle cx="465.3" cy="67.4" r="0.48" fill="#505050" opacity="0.48"/>
<circle cx="467.4" cy="61.0" r="0.48" fill="#505050" opacity="0.56"/>
<circle cx="462.6" cy="70.8" r="0.46" fill="#505050" opacity="0.74"/>
<circle cx="472.7" cy="66.4" r="0.73" fill="#505050" opacity="0.45"/>
<circle cx="462.9" cy="64.1" r="0.53" fill="#505050" opacity="0.45"/>
<circle cx="458.6" cy="72.0" r="0.90" fill="#505050" opacity="0.72"/>
<circle cx="468.1" cy="65.4" r="0.85" fill="#505050" opacity="0.40"/>
<circle cx="465.3" cy="60.7" r="0.89" fill="#505050" opacity="0.38"/>
<circle cx="466.8" cy="60.6" r="0.47" fill="#505050" opacity="0.38"/>
<circle cx="467.8" cy="59.9" r="0.49" fill="#505050" opacity="0.54"/>
<circle cx="467.8" cy="62.4" r="0.69" fill="#505050" opacity="0.43"/>
<circle cx="468.3" cy="69.3" r="0.76" fill="#505050" opacity="0.45"/>
<circle cx="467.0" cy="64.4" r="0.70" fill="#505050" opacity="0.56"/>
<circle cx="465.3" cy="66.1" r="0.71" fill="#505050" opacity="0.64"/>
<circle cx="467.4" cy="59.3" r="0.50" fill="#505050" opacity="0.40"/>
<circle cx="465.3" cy="60.0" r="0.76" fill="#505050" opacity="0.40"/>
<circle cx="466.9" cy="60.7" r="0.82" fill="#505050" opacity="0.70"/>
<circle cx="465.1" cy="63.7" r="0.86" fill="#505050" opacity="0.55"/>
<circle cx="467.6" cy="61.7" r="0.49" fill="#505050" opacity="0.69"/>
<circle cx="464.3" cy="65.3" r="0.59" fill="#505050" opacity="0.60"/>
<circle cx="469.9" cy="63.8" r="0.62" fill="#505050" opacity="0.57"/>
<circle cx="469.7" cy="67.6" r="0.81" fill="#505050" opacity="0.70"/>
<circle cx="453.4" cy="47.7" r="0.59" fill="#505050" opacity="0.53"/>
<circle cx="458.6" cy="46.4" r="0.88" fill="#505050" opacity="0.45"/>
<circle cx="452.3" cy="44.7" r="0.67" fill="#505050" opacity="0.31"/>
<circle cx="456.2" cy="44.6" r="0.49" fill="#505050" opacity="0.33"/>
<circle cx="454.8" cy="48.6" r="0.42" fill="#505050" opacity="0.33"/>
<circle cx="454.4" cy="43.6" r="0.41" fill="#505050" opacity="0.48"/>
<circle cx="452.6" cy="43.8" r="0.75" fill="#505050" opacity="0.33"/>
<circle cx="457.0" cy="42.6" r="0.42" fill="#505050" opacity="0.34"/>
<circle cx="452.4" cy="45.0" r="0.54" fill="#505050" opacity="0.34"/>
<circle cx="453.9" cy="45.5" r="0.70" fill="#505050" opacity="0.56"/>
<circle cx="456.4" cy="47.0" r="0.77" fill="#505050" opacity="0.35"/>
<circle cx="457.0" cy="40.7" r="0.59" fill="#505050" opacity="0.43"/>
<circle cx="456.1" cy="42.8" r="0.60" fill="#505050" opacity="0.58"/>
<circle cx="455.1" cy="43.1" r="0.52" fill="#505050" opacity="0.40"/>
<circle cx="449.6" cy="47.1" r="0.80" fill="#505050" opacity="0.57"/>
<circle cx="456.3" cy="41.3" r="0.43" fill="#505050" opacity="0.46"/>
<circle cx="459.3" cy="43.7" r="0.52" fill="#505050" opacity="0.43"/>
<circle cx="453.5" cy="43.5" r="0.67" fill="#505050" opacity="0.32"/>
<circle cx="452.4" cy="59.8" r="0.41" fill="#505050" opacity="0.34"/>
<circle cx="458.5" cy="58.1" r="0.87" fill="#505050" opacity="0.49"/>
<circle cx="456.5" cy="54.9" r="0.84" fill="#505050" opacity="0.31"/>
<circle cx="453.7" cy="57.6" r="0.74" fill="#505050" opacity="0.38"/>
<circle cx="450.0" cy="57.6" r="0.71" fill="#505050" opacity="0.38"/>
<circle cx="452.5" cy="58.5" r="0.88" fill="#505050" opacity="0.39"/>
<circle cx="453.7" cy="61.5" r="0.46" fill="#505050" opacity="0.48"/>
<circle cx="457.3" cy="58.1" r="0.53" fill="#505050" opacity="0.44"/>
<circle cx="453.6" cy="58.6" r="0.46" fill="#505050" opacity="0.34"/>
<circle cx="454.2" cy="60.8" r="0.54" fill="#505050" opacity="0.37"/>
<circle cx="457.2" cy="60.1" r="0.82" fill="#505050" opacity="0.48"/>
<circle cx="451.9" cy="57.6" r="0.50" fill="#505050" opacity="0.51"/>
<circle cx="452.1" cy="59.4" r="0.71" fill="#505050" opacity="0.44"/>
<circle cx="454.2" cy="60.2" r="0.51" fill="#505050" opacity="0.45"/>
<circle cx="452.6" cy="60.6" r="0.41" fill="#505050" opacity="0.41"/>
<circle cx="455.8" cy="57.7" r="0.68" fill="#505050" opacity="0.45"/>
<circle cx="453.4" cy="64.6" r="0.55" fill="#505050" opacity="0.53"/>
<circle cx="455.2" cy="59.4" r="0.84" fill="#505050" opacity="0.43"/>
<circle cx="456.8" cy="59.6" r="0.62" fill="#505050" opacity="0.52"/>
<circle cx="456.0" cy="59.7" r="0.88" fill="#505050" opacity="0.52"/>
<circle cx="437.8" cy="56.1" r="0.58" fill="#505050" opacity="0.50"/>
<circle cx="434.4" cy="52.6" r="0.81" fill="#505050" opacity="0.46"/>
<circle cx="436.7" cy="52.0" r="0.78" fill="#505050" opacity="0.44"/>
<circle cx="437.5" cy="52.2" r="0.86" fill="#505050" opacity="0.34"/>
<circle cx="437.0" cy="54.7" r="0.78" fill="#505050" opacity="0.48"/>
<circle cx="432.5" cy="54.9" r="0.69" fill="#505050" opacity="0.43"/>
<circle cx="437.6" cy="51.4" r="0.70" fill="#505050" opacity="0.41"/>
<circle cx="435.1" cy="55.4" r="0.76" fill="#505050" opacity="0.39"/>
<circle cx="435.2" cy="56.2" r="0.59" fill="#505050" opacity="0.40"/>
<circle cx="437.7" cy="51.6" r="0.65" fill="#505050" opacity="0.43"/>
<circle cx="437.5" cy="56.1" r="0.47" fill="#505050" opacity="0.47"/>
<circle cx="436.3" cy="54.4" r="0.86" fill="#505050" opacity="0.40"/>
<circle cx="438.7" cy="52.1" r="0.88" fill="#505050" opacity="0.36"/>
<circle cx="433.6" cy="56.5" r="0.41" fill="#505050" opacity="0.31"/>
<circle cx="503.9" cy="53.1" r="0.86" fill="#505050" opacity="0.71"/>
<circle cx="500.5" cy="52.6" r="0.66" fill="#505050" opacity="0.61"/>
<circle cx="504.8" cy="52.5" r="0.58" fill="#505050" opacity="0.64"/>
<circle cx="503.4" cy="56.5" r="0.74" fill="#505050" opacity="0.61"/>
<circle cx="506.5" cy="54.6" r="0.60" fill="#505050" opacity="0.62"/>
<circle cx="502.8" cy="52.5" r="0.88" fill="#505050" opacity="0.59"/>
<circle cx="503.6" cy="54.5" r="0.90" fill="#505050" opacity="0.54"/>
<circle cx="502.9" cy="53.3" r="0.49" fill="#505050" opacity="0.53"/>
<circle cx="504.7" cy="53.7" r="0.85" fill="#505050" opacity="0.68"/>
<circle cx="506.0" cy="54.8" r="0.66" fill="#505050" opacity="0.60"/>
<circle cx="505.7" cy="54.6" r="0.72" fill="#505050" opacity="0.64"/>
<circle cx="502.7" cy="57.4" r="0.72" fill="#505050" opacity="0.42"/>
<circle cx="503.3" cy="55.1" r="0.55" fill="#505050" opacity="0.68"/>
<circle cx="506.6" cy="53.8" r="0.82" fill="#505050" opacity="0.63"/>
<circle cx="504.9" cy="53.0" r="0.65" fill="#505050" opacity="0.62"/>
<circle cx="505.2" cy="55.8" r="0.67" fill="#505050" opacity="0.80"/>
<circle cx="503.4" cy="65.0" r="0.46" fill="#505050" opacity="0.35"/>
<circle cx="504.4" cy="65.0" r="0.45" fill="#505050" opacity="0.35"/>
<circle cx="502.4" cy="65.3" r="0.71" fill="#505050" opacity="0.54"/>
<circle cx="504.6" cy="65.8" r="0.79" fill="#505050" opacity="0.40"/>
<circle cx="504.2" cy="64.3" r="0.48" fill="#505050" opacity="0.38"/>
<circle cx="506.3" cy="67.6" r="0.69" fill="#505050" opacity="0.40"/>
<circle cx="503.4" cy="66.2" r="0.43" fill="#505050" opacity="0.57"/>
<circle cx="502.0" cy="63.8" r="0.62" fill="#505050" opacity="0.49"/>
<circle cx="504.4" cy="66.1" r="0.87" fill="#505050" opacity="0.56"/>
<circle cx="480.9" cy="84.5" r="0.81" fill="#505050" opacity="0.46"/>
<circle cx="478.6" cy="79.3" r="0.65" fill="#505050" opacity="0.68"/>
<circle cx="482.6" cy="83.1" r="0.76" fill="#505050" opacity="0.43"/>
<circle cx="481.1" cy="84.5" r="0.64" fill="#505050" opacity="0.63"/>
<circle cx="482.5" cy="82.5" r="0.58" fill="#505050" opacity="0.42"/>
<circle cx="484.0" cy="81.4" r="0.68" fill="#505050" opacity="0.39"/>
<circle cx="480.7" cy="81.3" r="0.60" fill="#505050" opacity="0.37"/>
<circle cx="485.0" cy="83.6" r="0.58" fill="#505050" opacity="0.44"/>
<circle cx="483.1" cy="82.7" r="0.52" fill="#505050" opacity="0.36"/>
<circle cx="481.6" cy="80.4" r="0.48" fill="#505050" opacity="0.60"/>
<circle cx="483.8" cy="82.3" r="0.82" fill="#505050" opacity="0.39"/>
<circle cx="479.1" cy="82.6" r="0.80" fill="#505050" opacity="0.41"/>
<circle cx="480.7" cy="83.5" r="0.59" fill="#505050" opacity="0.69"/>
<circle cx="483.7" cy="85.2" r="0.65" fill="#505050" opacity="0.43"/>
<circle cx="481.5" cy="81.8" r="0.75" fill="#505050" opacity="0.44"/>
<circle cx="484.5" cy="80.4" r="0.58" fill="#505050" opacity="0.44"/>
<circle cx="481.5" cy="80.9" r="0.84" fill="#505050" opacity="0.39"/>
<circle cx="480.1" cy="81.4" r="0.54" fill="#505050" opacity="0.62"/>
<circle cx="477.2" cy="74.0" r="0.68" fill="#505050" opacity="0.39"/>
<circle cx="478.2" cy="73.1" r="0.49" fill="#505050" opacity="0.56"/>
<circle cx="477.8" cy="74.4" r="0.45" fill="#505050" opacity="0.47"/>
<circle cx="477.6" cy="73.9" r="0.55" fill="#505050" opacity="0.32"/>
<circle cx="478.3" cy="73.6" r="0.46" fill="#505050" opacity="0.52"/>
<circle cx="478.3" cy="74.0" r="0.85" fill="#505050" opacity="0.53"/>
<circle cx="480.5" cy="71.0" r="0.47" fill="#505050" opacity="0.38"/>
<circle cx="480.5" cy="73.1" r="0.73" fill="#505050" opacity="0.41"/>
<circle cx="477.0" cy="73.7" r="0.75" fill="#505050" opacity="0.37"/>
<circle cx="484.2" cy="50.0" r="0.71" fill="#505050" opacity="0.27"/>
<circle cx="485.8" cy="55.3" r="0.77" fill="#505050" opacity="0.39"/>
<circle cx="483.9" cy="52.0" r="0.48" fill="#505050" opacity="0.27"/>
<circle cx="483.1" cy="54.0" r="0.42" fill="#505050" opacity="0.29"/>
<circle cx="482.9" cy="50.6" r="0.82" fill="#505050" opacity="0.35"/>
<circle cx="483.3" cy="50.0" r="0.62" fill="#505050" opacity="0.38"/>
<circle cx="483.5" cy="51.9" r="0.82" fill="#505050" opacity="0.40"/>
<circle cx="483.4" cy="52.5" r="0.83" fill="#505050" opacity="0.36"/>
<circle cx="484.5" cy="52.3" r="0.46" fill="#505050" opacity="0.40"/>
<circle cx="484.3" cy="57.0" r="0.77" fill="#505050" opacity="0.24"/>
<circle cx="483.0" cy="49.5" r="0.77" fill="#505050" opacity="0.41"/>
<circle cx="483.4" cy="52.8" r="0.87" fill="#505050" opacity="0.32"/>
<circle cx="470.1" cy="78.7" r="0.77" fill="#505050" opacity="0.37"/>
<circle cx="466.4" cy="78.5" r="0.43" fill="#505050" opacity="0.34"/>
<circle cx="465.9" cy="80.3" r="0.86" fill="#505050" opacity="0.23"/>
<circle cx="467.7" cy="79.2" r="0.75" fill="#505050" opacity="0.36"/>
<circle cx="467.5" cy="81.4" r="0.88" fill="#505050" opacity="0.33"/>
<circle cx="466.5" cy="79.3" r="0.43" fill="#505050" opacity="0.27"/>
<circle cx="466.7" cy="80.1" r="0.56" fill="#505050" opacity="0.23"/>
<circle cx="467.0" cy="77.6" r="0.52" fill="#505050" opacity="0.25"/>
<circle cx="457.2" cy="53.6" r="0.87" fill="#505050" opacity="0.34"/>
<circle cx="458.8" cy="60.9" r="0.47" fill="#505050" opacity="0.39"/>
<circle cx="457.8" cy="59.6" r="0.67" fill="#505050" opacity="0.44"/>
<circle cx="463.5" cy="58.5" r="0.70" fill="#505050" opacity="0.37"/>
<circle cx="461.7" cy="47.4" r="0.46" fill="#505050" opacity="0.32"/>
<circle cx="459.5" cy="55.8" r="0.43" fill="#505050" opacity="0.32"/>
<circle cx="462.8" cy="59.1" r="0.62" fill="#505050" opacity="0.28"/>
<circle cx="459.2" cy="57.5" r="0.58" fill="#505050" opacity="0.29"/>
<circle cx="461.5" cy="54.2" r="0.90" fill="#505050" opacity="0.44"/>
<circle cx="465.8" cy="56.8" r="0.89" fill="#505050" opacity="0.39"/>
<circle cx="464.1" cy="56.6" r="0.62" fill="#505050" opacity="0.30"/>
<circle cx="460.6" cy="53.9" r="0.86" fill="#505050" opacity="0.41"/>
<circle cx="455.3" cy="48.1" r="0.73" fill="#505050" opacity="0.31"/>
<circle cx="461.0" cy="55.9" r="0.41" fill="#505050" opacity="0.44"/>
<circle cx="462.6" cy="51.5" r="0.49" fill="#505050" opacity="0.41"/>
<circle cx="465.5" cy="47.4" r="0.48" fill="#505050" opacity="0.45"/>
<circle cx="476.8" cy="53.0" r="0.56" fill="#505050" opacity="0.30"/>
<circle cx="475.4" cy="55.3" r="0.58" fill="#505050" opacity="0.39"/>
<circle cx="469.5" cy="62.8" r="0.52" fill="#505050" opacity="0.26"/>
<circle cx="469.5" cy="56.0" r="0.81" fill="#505050" opacity="0.43"/>
<circle cx="481.0" cy="53.3" r="0.65" fill="#505050" opacity="0.37"/>
<circle cx="475.6" cy="60.5" r="0.69" fill="#505050" opacity="0.27"/>
<circle cx="473.2" cy="56.1" r="0.62" fill="#505050" opacity="0.49"/>
<circle cx="474.8" cy="58.5" r="0.62" fill="#505050" opacity="0.30"/>
<circle cx="474.0" cy="57.7" r="0.82" fill="#505050" opacity="0.46"/>
<circle cx="474.8" cy="54.4" r="0.54" fill="#505050" opacity="0.42"/>
<circle cx="470.4" cy="57.7" r="0.57" fill="#505050" opacity="0.36"/>
<circle cx="470.7" cy="52.3" r="0.85" fill="#505050" opacity="0.29"/>
<circle cx="472.9" cy="61.6" r="0.68" fill="#505050" opacity="0.34"/>
<circle cx="474.5" cy="59.4" r="0.56" fill="#505050" opacity="0.37"/>
<circle cx="452.5" cy="76.2" r="0.83" fill="#505050" opacity="0.39"/>
<circle cx="450.1" cy="76.3" r="0.81" fill="#505050" opacity="0.21"/>
<circle cx="444.2" cy="74.5" r="0.55" fill="#505050" opacity="0.31"/>
<circle cx="449.3" cy="76.3" r="0.72" fill="#505050" opacity="0.26"/>
<circle cx="442.5" cy="80.5" r="0.41" fill="#505050" opacity="0.24"/>
<circle cx="444.6" cy="75.0" r="0.44" fill="#505050" opacity="0.33"/>
<circle cx="443.3" cy="78.9" r="0.61" fill="#505050" opacity="0.31"/>
<circle cx="443.2" cy="76.2" r="0.46" fill="#505050" opacity="0.24"/>
<circle cx="497.9" cy="73.6" r="0.46" fill="#505050" opacity="0.37"/>
<circle cx="495.0" cy="77.3" r="0.67" fill="#505050" opacity="0.25"/>
<circle cx="491.2" cy="76.3" r="0.51" fill="#505050" opacity="0.31"/>
<circle cx="497.7" cy="78.3" r="0.69" fill="#505050" opacity="0.22"/>
<circle cx="494.0" cy="76.6" r="0.62" fill="#505050" opacity="0.37"/>
<circle cx="490.5" cy="74.5" r="0.78" fill="#505050" opacity="0.22"/>
<circle cx="499.8" cy="75.7" r="0.45" fill="#505050" opacity="0.37"/>
<circle cx="493.6" cy="77.2" r="0.88" fill="#505050" opacity="0.31"/>
</g>
</g>
</g>
</svg>
</body></html>
